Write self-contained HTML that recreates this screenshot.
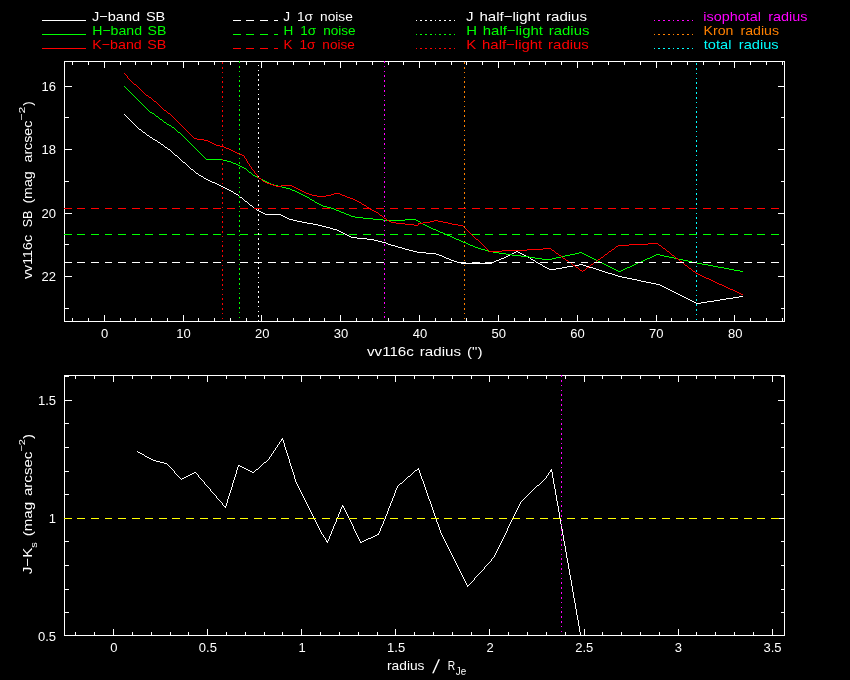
<!DOCTYPE html>
<html><head><meta charset="utf-8"><title>vv116c surface brightness profile</title><style>
html,body{margin:0;padding:0;background:#000;width:850px;height:680px;overflow:hidden}
svg{display:block;will-change:transform}
svg text{font-family:"Liberation Sans",sans-serif}
</style></head><body>
<svg width="850" height="680" viewBox="0 0 850 680" font-size="13">
<rect width="850" height="680" fill="#000"/>
<g shape-rendering="crispEdges">
<path fill="#ffffff" d="M64 61h721v1h-721zM64 62h1v1h-1zM72 62h1v1h-1zM88 62h1v1h-1zM104 62h1v1h-1zM120 62h1v1h-1zM135 62h1v1h-1zM151 62h1v1h-1zM167 62h1v1h-1zM183 62h1v1h-1zM198 62h1v1h-1zM214 62h1v1h-1zM230 62h1v1h-1zM246 62h1v1h-1zM261 62h1v1h-1zM277 62h1v1h-1zM293 62h1v1h-1zM309 62h1v1h-1zM324 62h1v1h-1zM340 62h1v1h-1zM356 62h1v1h-1zM372 62h1v1h-1zM388 62h1v1h-1zM403 62h1v1h-1zM419 62h1v1h-1zM435 62h1v1h-1zM451 62h1v1h-1zM466 62h1v1h-1zM482 62h1v1h-1zM498 62h1v1h-1zM514 62h1v1h-1zM529 62h1v1h-1zM545 62h1v1h-1zM561 62h1v1h-1zM577 62h1v1h-1zM592 62h1v1h-1zM608 62h1v1h-1zM624 62h1v1h-1zM640 62h1v1h-1zM656 62h1v1h-1zM671 62h1v1h-1zM687 62h1v1h-1zM703 62h1v1h-1zM719 62h1v1h-1zM734 62h1v1h-1zM750 62h1v1h-1zM766 62h1v1h-1zM782 62h1v1h-1zM784 62h1v1h-1zM64 63h1v1h-1zM72 63h1v1h-1zM88 63h1v1h-1zM104 63h1v1h-1zM120 63h1v1h-1zM135 63h1v1h-1zM151 63h1v1h-1zM167 63h1v1h-1zM183 63h1v1h-1zM198 63h1v1h-1zM214 63h1v1h-1zM230 63h1v1h-1zM246 63h1v1h-1zM261 63h1v1h-1zM277 63h1v1h-1zM293 63h1v1h-1zM309 63h1v1h-1zM324 63h1v1h-1zM340 63h1v1h-1zM356 63h1v1h-1zM372 63h1v1h-1zM388 63h1v1h-1zM403 63h1v1h-1zM419 63h1v1h-1zM435 63h1v1h-1zM451 63h1v1h-1zM466 63h1v1h-1zM482 63h1v1h-1zM498 63h1v1h-1zM514 63h1v1h-1zM529 63h1v1h-1zM545 63h1v1h-1zM561 63h1v1h-1zM577 63h1v1h-1zM592 63h1v1h-1zM608 63h1v1h-1zM624 63h1v1h-1zM640 63h1v1h-1zM656 63h1v1h-1zM671 63h1v1h-1zM687 63h1v1h-1zM703 63h1v1h-1zM719 63h1v1h-1zM734 63h1v1h-1zM750 63h1v1h-1zM766 63h1v1h-1zM782 63h1v1h-1zM784 63h1v1h-1zM64 64h1v1h-1zM72 64h1v1h-1zM88 64h1v1h-1zM104 64h1v1h-1zM120 64h1v1h-1zM135 64h1v1h-1zM151 64h1v1h-1zM167 64h1v1h-1zM183 64h1v1h-1zM198 64h1v1h-1zM214 64h1v1h-1zM230 64h1v1h-1zM246 64h1v1h-1zM261 64h1v1h-1zM277 64h1v1h-1zM293 64h1v1h-1zM309 64h1v1h-1zM324 64h1v1h-1zM340 64h1v1h-1zM356 64h1v1h-1zM372 64h1v1h-1zM388 64h1v1h-1zM403 64h1v1h-1zM419 64h1v1h-1zM435 64h1v1h-1zM451 64h1v1h-1zM466 64h1v1h-1zM482 64h1v1h-1zM498 64h1v1h-1zM514 64h1v1h-1zM529 64h1v1h-1zM545 64h1v1h-1zM561 64h1v1h-1zM577 64h1v1h-1zM592 64h1v1h-1zM608 64h1v1h-1zM624 64h1v1h-1zM640 64h1v1h-1zM656 64h1v1h-1zM671 64h1v1h-1zM687 64h1v1h-1zM703 64h1v1h-1zM719 64h1v1h-1zM734 64h1v1h-1zM750 64h1v1h-1zM766 64h1v1h-1zM782 64h1v1h-1zM784 64h1v1h-1zM64 65h1v1h-1zM104 65h1v1h-1zM183 65h1v1h-1zM261 65h1v1h-1zM340 65h1v1h-1zM419 65h1v1h-1zM498 65h1v1h-1zM577 65h1v1h-1zM656 65h1v1h-1zM734 65h1v1h-1zM784 65h1v1h-1zM64 66h1v1h-1zM104 66h1v1h-1zM183 66h1v1h-1zM261 66h1v1h-1zM340 66h1v1h-1zM419 66h1v1h-1zM498 66h1v1h-1zM577 66h1v1h-1zM656 66h1v1h-1zM734 66h1v1h-1zM784 66h1v1h-1zM64 67h1v1h-1zM104 67h1v1h-1zM183 67h1v1h-1zM261 67h1v1h-1zM340 67h1v1h-1zM419 67h1v1h-1zM498 67h1v1h-1zM577 67h1v1h-1zM656 67h1v1h-1zM734 67h1v1h-1zM784 67h1v1h-1zM64 68h1v1h-1zM784 68h1v1h-1zM64 69h1v1h-1zM784 69h1v1h-1zM64 70h1v1h-1zM784 70h1v1h-1zM64 71h1v1h-1zM784 71h1v1h-1zM64 72h1v1h-1zM784 72h1v1h-1zM64 73h1v1h-1zM784 73h1v1h-1zM64 74h1v1h-1zM784 74h1v1h-1zM64 75h1v1h-1zM784 75h1v1h-1zM64 76h1v1h-1zM784 76h1v1h-1zM64 77h1v1h-1zM784 77h1v1h-1zM64 78h1v1h-1zM784 78h1v1h-1zM64 79h1v1h-1zM784 79h1v1h-1zM64 80h1v1h-1zM784 80h1v1h-1zM64 81h1v1h-1zM784 81h1v1h-1zM64 82h1v1h-1zM784 82h1v1h-1zM64 83h1v1h-1zM784 83h1v1h-1zM64 84h1v1h-1zM784 84h1v1h-1zM64 85h1v1h-1zM784 85h1v1h-1zM64 86h8v1h-8zM778 86h7v1h-7zM64 87h1v1h-1zM784 87h1v1h-1zM64 88h1v1h-1zM784 88h1v1h-1zM64 89h1v1h-1zM784 89h1v1h-1zM64 90h1v1h-1zM784 90h1v1h-1zM64 91h1v1h-1zM784 91h1v1h-1zM64 92h1v1h-1zM784 92h1v1h-1zM64 93h1v1h-1zM784 93h1v1h-1zM64 94h1v1h-1zM784 94h1v1h-1zM64 95h1v1h-1zM784 95h1v1h-1zM64 96h1v1h-1zM784 96h1v1h-1zM64 97h1v1h-1zM784 97h1v1h-1zM64 98h1v1h-1zM784 98h1v1h-1zM64 99h1v1h-1zM784 99h1v1h-1zM64 100h1v1h-1zM784 100h1v1h-1zM64 101h1v1h-1zM784 101h1v1h-1zM64 102h1v1h-1zM784 102h1v1h-1zM64 103h1v1h-1zM784 103h1v1h-1zM64 104h1v1h-1zM784 104h1v1h-1zM64 105h1v1h-1zM784 105h1v1h-1zM64 106h1v1h-1zM784 106h1v1h-1zM64 107h1v1h-1zM784 107h1v1h-1zM64 108h1v1h-1zM784 108h1v1h-1zM64 109h1v1h-1zM784 109h1v1h-1zM64 110h1v1h-1zM784 110h1v1h-1zM64 111h1v1h-1zM784 111h1v1h-1zM64 112h1v1h-1zM784 112h1v1h-1zM64 113h1v1h-1zM784 113h1v1h-1zM64 114h1v1h-1zM124 114h1v1h-1zM784 114h1v1h-1zM64 115h1v1h-1zM125 115h1v1h-1zM784 115h1v1h-1zM64 116h1v1h-1zM126 116h1v1h-1zM784 116h1v1h-1zM64 117h5v1h-5zM127 117h1v1h-1zM781 117h4v1h-4zM64 118h1v1h-1zM128 118h1v1h-1zM784 118h1v1h-1zM64 119h1v1h-1zM129 119h1v1h-1zM784 119h1v1h-1zM64 120h1v1h-1zM130 120h1v1h-1zM784 120h1v1h-1zM64 121h1v1h-1zM131 121h1v1h-1zM784 121h1v1h-1zM64 122h1v1h-1zM132 122h1v1h-1zM784 122h1v1h-1zM64 123h1v1h-1zM133 123h1v1h-1zM784 123h1v1h-1zM64 124h1v1h-1zM134 124h1v1h-1zM784 124h1v1h-1zM64 125h1v1h-1zM135 125h1v1h-1zM784 125h1v1h-1zM64 126h1v1h-1zM136 126h1v1h-1zM784 126h1v1h-1zM64 127h1v1h-1zM137 127h1v1h-1zM784 127h1v1h-1zM64 128h1v1h-1zM138 128h1v1h-1zM784 128h1v1h-1zM64 129h1v1h-1zM139 129h2v1h-2zM784 129h1v1h-1zM64 130h1v1h-1zM141 130h1v1h-1zM784 130h1v1h-1zM64 131h1v1h-1zM142 131h1v1h-1zM784 131h1v1h-1zM64 132h1v1h-1zM143 132h2v1h-2zM784 132h1v1h-1zM64 133h1v1h-1zM145 133h1v1h-1zM784 133h1v1h-1zM64 134h1v1h-1zM146 134h1v1h-1zM784 134h1v1h-1zM64 135h1v1h-1zM147 135h2v1h-2zM784 135h1v1h-1zM64 136h1v1h-1zM149 136h1v1h-1zM784 136h1v1h-1zM64 137h1v1h-1zM150 137h2v1h-2zM784 137h1v1h-1zM64 138h1v1h-1zM152 138h1v1h-1zM784 138h1v1h-1zM64 139h1v1h-1zM153 139h2v1h-2zM784 139h1v1h-1zM64 140h1v1h-1zM155 140h2v1h-2zM784 140h1v1h-1zM64 141h1v1h-1zM157 141h1v1h-1zM784 141h1v1h-1zM64 142h1v1h-1zM158 142h2v1h-2zM784 142h1v1h-1zM64 143h1v1h-1zM160 143h1v1h-1zM784 143h1v1h-1zM64 144h1v1h-1zM161 144h2v1h-2zM784 144h1v1h-1zM64 145h1v1h-1zM163 145h1v1h-1zM784 145h1v1h-1zM64 146h1v1h-1zM164 146h1v1h-1zM784 146h1v1h-1zM64 147h1v1h-1zM165 147h2v1h-2zM784 147h1v1h-1zM64 148h1v1h-1zM167 148h1v1h-1zM784 148h1v1h-1zM64 149h8v1h-8zM168 149h2v1h-2zM778 149h7v1h-7zM64 150h1v1h-1zM170 150h1v1h-1zM784 150h1v1h-1zM64 151h1v1h-1zM171 151h1v1h-1zM784 151h1v1h-1zM64 152h1v1h-1zM172 152h1v1h-1zM784 152h1v1h-1zM64 153h1v1h-1zM173 153h1v1h-1zM784 153h1v1h-1zM64 154h1v1h-1zM174 154h1v1h-1zM784 154h1v1h-1zM64 155h1v1h-1zM175 155h2v1h-2zM784 155h1v1h-1zM64 156h1v1h-1zM177 156h1v1h-1zM784 156h1v1h-1zM64 157h1v1h-1zM178 157h1v1h-1zM784 157h1v1h-1zM64 158h1v1h-1zM179 158h1v1h-1zM784 158h1v1h-1zM64 159h1v1h-1zM180 159h1v1h-1zM784 159h1v1h-1zM64 160h1v1h-1zM181 160h1v1h-1zM784 160h1v1h-1zM64 161h1v1h-1zM182 161h1v1h-1zM784 161h1v1h-1zM64 162h1v1h-1zM183 162h2v1h-2zM784 162h1v1h-1zM64 163h1v1h-1zM185 163h1v1h-1zM784 163h1v1h-1zM64 164h1v1h-1zM186 164h1v1h-1zM784 164h1v1h-1zM64 165h1v1h-1zM187 165h1v1h-1zM784 165h1v1h-1zM64 166h1v1h-1zM188 166h1v1h-1zM784 166h1v1h-1zM64 167h1v1h-1zM189 167h1v1h-1zM784 167h1v1h-1zM64 168h1v1h-1zM190 168h1v1h-1zM784 168h1v1h-1zM64 169h1v1h-1zM191 169h2v1h-2zM784 169h1v1h-1zM64 170h1v1h-1zM193 170h1v1h-1zM784 170h1v1h-1zM64 171h1v1h-1zM194 171h1v1h-1zM784 171h1v1h-1zM64 172h1v1h-1zM195 172h1v1h-1zM784 172h1v1h-1zM64 173h1v1h-1zM196 173h2v1h-2zM784 173h1v1h-1zM64 174h1v1h-1zM198 174h1v1h-1zM784 174h1v1h-1zM64 175h1v1h-1zM199 175h2v1h-2zM784 175h1v1h-1zM64 176h1v1h-1zM201 176h2v1h-2zM784 176h1v1h-1zM64 177h1v1h-1zM203 177h1v1h-1zM784 177h1v1h-1zM64 178h1v1h-1zM204 178h2v1h-2zM784 178h1v1h-1zM64 179h1v1h-1zM206 179h2v1h-2zM784 179h1v1h-1zM64 180h1v1h-1zM208 180h2v1h-2zM784 180h1v1h-1zM64 181h5v1h-5zM210 181h2v1h-2zM781 181h4v1h-4zM64 182h1v1h-1zM212 182h3v1h-3zM784 182h1v1h-1zM64 183h1v1h-1zM215 183h2v1h-2zM784 183h1v1h-1zM64 184h1v1h-1zM217 184h2v1h-2zM784 184h1v1h-1zM64 185h1v1h-1zM219 185h2v1h-2zM784 185h1v1h-1zM64 186h1v1h-1zM221 186h2v1h-2zM784 186h1v1h-1zM64 187h1v1h-1zM223 187h2v1h-2zM784 187h1v1h-1zM64 188h1v1h-1zM225 188h2v1h-2zM784 188h1v1h-1zM64 189h1v1h-1zM227 189h2v1h-2zM784 189h1v1h-1zM64 190h1v1h-1zM229 190h2v1h-2zM784 190h1v1h-1zM64 191h1v1h-1zM231 191h2v1h-2zM784 191h1v1h-1zM64 192h1v1h-1zM233 192h1v1h-1zM784 192h1v1h-1zM64 193h1v1h-1zM234 193h2v1h-2zM784 193h1v1h-1zM64 194h1v1h-1zM236 194h2v1h-2zM784 194h1v1h-1zM64 195h1v1h-1zM238 195h1v1h-1zM784 195h1v1h-1zM64 196h1v1h-1zM239 196h1v1h-1zM784 196h1v1h-1zM64 197h1v1h-1zM240 197h2v1h-2zM784 197h1v1h-1zM64 198h1v1h-1zM242 198h1v1h-1zM784 198h1v1h-1zM64 199h1v1h-1zM243 199h1v1h-1zM784 199h1v1h-1zM64 200h1v1h-1zM244 200h1v1h-1zM784 200h1v1h-1zM64 201h1v1h-1zM245 201h2v1h-2zM784 201h1v1h-1zM64 202h1v1h-1zM247 202h1v1h-1zM784 202h1v1h-1zM64 203h1v1h-1zM248 203h1v1h-1zM784 203h1v1h-1zM64 204h1v1h-1zM249 204h1v1h-1zM784 204h1v1h-1zM64 205h1v1h-1zM250 205h2v1h-2zM784 205h1v1h-1zM64 206h1v1h-1zM252 206h1v1h-1zM784 206h1v1h-1zM64 207h1v1h-1zM253 207h1v1h-1zM784 207h1v1h-1zM64 208h1v1h-1zM254 208h2v1h-2zM784 208h1v1h-1zM64 209h1v1h-1zM256 209h1v1h-1zM784 209h1v1h-1zM64 210h1v1h-1zM257 210h2v1h-2zM784 210h1v1h-1zM64 211h1v1h-1zM259 211h2v1h-2zM784 211h1v1h-1zM64 212h1v1h-1zM261 212h2v1h-2zM784 212h1v1h-1zM64 213h8v1h-8zM263 213h2v1h-2zM778 213h7v1h-7zM64 214h1v1h-1zM265 214h16v1h-16zM784 214h1v1h-1zM64 215h1v1h-1zM281 215h2v1h-2zM784 215h1v1h-1zM64 216h1v1h-1zM283 216h2v1h-2zM784 216h1v1h-1zM64 217h1v1h-1zM285 217h2v1h-2zM784 217h1v1h-1zM64 218h1v1h-1zM287 218h2v1h-2zM784 218h1v1h-1zM64 219h1v1h-1zM289 219h4v1h-4zM784 219h1v1h-1zM64 220h1v1h-1zM293 220h4v1h-4zM784 220h1v1h-1zM64 221h1v1h-1zM297 221h5v1h-5zM784 221h1v1h-1zM64 222h1v1h-1zM302 222h5v1h-5zM784 222h1v1h-1zM64 223h1v1h-1zM307 223h6v1h-6zM784 223h1v1h-1zM64 224h1v1h-1zM313 224h5v1h-5zM784 224h1v1h-1zM64 225h1v1h-1zM318 225h4v1h-4zM784 225h1v1h-1zM64 226h1v1h-1zM322 226h4v1h-4zM784 226h1v1h-1zM64 227h1v1h-1zM326 227h4v1h-4zM784 227h1v1h-1zM64 228h1v1h-1zM330 228h3v1h-3zM784 228h1v1h-1zM64 229h1v1h-1zM333 229h4v1h-4zM784 229h1v1h-1zM64 230h1v1h-1zM337 230h2v1h-2zM784 230h1v1h-1zM64 231h1v1h-1zM339 231h2v1h-2zM784 231h1v1h-1zM64 232h1v1h-1zM341 232h2v1h-2zM784 232h1v1h-1zM64 233h1v1h-1zM343 233h2v1h-2zM784 233h1v1h-1zM64 234h1v1h-1zM345 234h2v1h-2zM784 234h1v1h-1zM64 235h1v1h-1zM347 235h2v1h-2zM784 235h1v1h-1zM64 236h1v1h-1zM349 236h2v1h-2zM784 236h1v1h-1zM64 237h1v1h-1zM351 237h6v1h-6zM784 237h1v1h-1zM64 238h1v1h-1zM357 238h10v1h-10zM784 238h1v1h-1zM64 239h1v1h-1zM367 239h7v1h-7zM784 239h1v1h-1zM64 240h1v1h-1zM374 240h4v1h-4zM784 240h1v1h-1zM64 241h1v1h-1zM378 241h4v1h-4zM784 241h1v1h-1zM64 242h1v1h-1zM382 242h4v1h-4zM784 242h1v1h-1zM64 243h1v1h-1zM386 243h2v1h-2zM784 243h1v1h-1zM64 244h5v1h-5zM388 244h3v1h-3zM781 244h4v1h-4zM64 245h1v1h-1zM391 245h4v1h-4zM784 245h1v1h-1zM64 246h1v1h-1zM395 246h3v1h-3zM784 246h1v1h-1zM64 247h1v1h-1zM398 247h4v1h-4zM784 247h1v1h-1zM64 248h1v1h-1zM402 248h3v1h-3zM784 248h1v1h-1zM64 249h1v1h-1zM405 249h4v1h-4zM784 249h1v1h-1zM64 250h1v1h-1zM409 250h4v1h-4zM784 250h1v1h-1zM64 251h1v1h-1zM413 251h4v1h-4zM516 251h2v1h-2zM784 251h1v1h-1zM64 252h1v1h-1zM417 252h9v1h-9zM514 252h2v1h-2zM518 252h2v1h-2zM784 252h1v1h-1zM64 253h1v1h-1zM426 253h10v1h-10zM512 253h2v1h-2zM520 253h2v1h-2zM784 253h1v1h-1zM64 254h1v1h-1zM436 254h3v1h-3zM510 254h2v1h-2zM522 254h2v1h-2zM784 254h1v1h-1zM64 255h1v1h-1zM439 255h3v1h-3zM508 255h2v1h-2zM524 255h2v1h-2zM784 255h1v1h-1zM64 256h1v1h-1zM442 256h2v1h-2zM506 256h2v1h-2zM526 256h2v1h-2zM784 256h1v1h-1zM64 257h1v1h-1zM444 257h2v1h-2zM504 257h2v1h-2zM528 257h2v1h-2zM784 257h1v1h-1zM64 258h1v1h-1zM446 258h3v1h-3zM501 258h3v1h-3zM530 258h1v1h-1zM784 258h1v1h-1zM64 259h1v1h-1zM449 259h2v1h-2zM499 259h2v1h-2zM531 259h2v1h-2zM784 259h1v1h-1zM64 260h1v1h-1zM451 260h3v1h-3zM496 260h3v1h-3zM533 260h2v1h-2zM784 260h1v1h-1zM64 261h1v1h-1zM454 261h3v1h-3zM494 261h2v1h-2zM535 261h1v1h-1zM784 261h1v1h-1zM64 262h1v1h-1zM457 262h4v1h-4zM492 262h2v1h-2zM536 262h2v1h-2zM784 262h1v1h-1zM64 263h1v1h-1zM461 263h31v1h-31zM538 263h2v1h-2zM784 263h1v1h-1zM64 264h1v1h-1zM540 264h2v1h-2zM579 264h4v1h-4zM784 264h1v1h-1zM64 265h1v1h-1zM542 265h1v1h-1zM573 265h6v1h-6zM583 265h3v1h-3zM784 265h1v1h-1zM64 266h1v1h-1zM543 266h2v1h-2zM567 266h6v1h-6zM586 266h3v1h-3zM784 266h1v1h-1zM64 267h1v1h-1zM545 267h2v1h-2zM562 267h5v1h-5zM589 267h4v1h-4zM784 267h1v1h-1zM64 268h1v1h-1zM547 268h2v1h-2zM556 268h6v1h-6zM593 268h3v1h-3zM784 268h1v1h-1zM64 269h1v1h-1zM549 269h7v1h-7zM596 269h3v1h-3zM784 269h1v1h-1zM64 270h1v1h-1zM599 270h3v1h-3zM784 270h1v1h-1zM64 271h1v1h-1zM602 271h3v1h-3zM784 271h1v1h-1zM64 272h1v1h-1zM605 272h3v1h-3zM784 272h1v1h-1zM64 273h1v1h-1zM608 273h4v1h-4zM784 273h1v1h-1zM64 274h1v1h-1zM612 274h3v1h-3zM784 274h1v1h-1zM64 275h1v1h-1zM615 275h3v1h-3zM784 275h1v1h-1zM64 276h8v1h-8zM618 276h4v1h-4zM778 276h7v1h-7zM64 277h1v1h-1zM622 277h5v1h-5zM784 277h1v1h-1zM64 278h1v1h-1zM627 278h5v1h-5zM784 278h1v1h-1zM64 279h1v1h-1zM632 279h5v1h-5zM784 279h1v1h-1zM64 280h1v1h-1zM637 280h4v1h-4zM784 280h1v1h-1zM64 281h1v1h-1zM641 281h5v1h-5zM784 281h1v1h-1zM64 282h1v1h-1zM646 282h5v1h-5zM784 282h1v1h-1zM64 283h1v1h-1zM651 283h5v1h-5zM784 283h1v1h-1zM64 284h1v1h-1zM656 284h4v1h-4zM784 284h1v1h-1zM64 285h1v1h-1zM660 285h2v1h-2zM784 285h1v1h-1zM64 286h1v1h-1zM662 286h2v1h-2zM784 286h1v1h-1zM64 287h1v1h-1zM664 287h2v1h-2zM784 287h1v1h-1zM64 288h1v1h-1zM666 288h2v1h-2zM784 288h1v1h-1zM64 289h1v1h-1zM668 289h2v1h-2zM784 289h1v1h-1zM64 290h1v1h-1zM670 290h2v1h-2zM784 290h1v1h-1zM64 291h1v1h-1zM672 291h2v1h-2zM784 291h1v1h-1zM64 292h1v1h-1zM674 292h2v1h-2zM784 292h1v1h-1zM64 293h1v1h-1zM676 293h2v1h-2zM784 293h1v1h-1zM64 294h1v1h-1zM678 294h2v1h-2zM784 294h1v1h-1zM64 295h1v1h-1zM680 295h2v1h-2zM784 295h1v1h-1zM64 296h1v1h-1zM682 296h2v1h-2zM739 296h4v1h-4zM784 296h1v1h-1zM64 297h1v1h-1zM684 297h2v1h-2zM733 297h6v1h-6zM784 297h1v1h-1zM64 298h1v1h-1zM686 298h2v1h-2zM726 298h7v1h-7zM784 298h1v1h-1zM64 299h1v1h-1zM688 299h2v1h-2zM720 299h6v1h-6zM784 299h1v1h-1zM64 300h1v1h-1zM690 300h2v1h-2zM714 300h6v1h-6zM784 300h1v1h-1zM64 301h1v1h-1zM692 301h2v1h-2zM707 301h7v1h-7zM784 301h1v1h-1zM64 302h1v1h-1zM694 302h2v1h-2zM701 302h6v1h-6zM784 302h1v1h-1zM64 303h1v1h-1zM696 303h5v1h-5zM784 303h1v1h-1zM64 304h1v1h-1zM784 304h1v1h-1zM64 305h1v1h-1zM784 305h1v1h-1zM64 306h1v1h-1zM784 306h1v1h-1zM64 307h1v1h-1zM784 307h1v1h-1zM64 308h5v1h-5zM781 308h4v1h-4zM64 309h1v1h-1zM784 309h1v1h-1zM64 310h1v1h-1zM784 310h1v1h-1zM64 311h1v1h-1zM784 311h1v1h-1zM64 312h1v1h-1zM784 312h1v1h-1zM64 313h1v1h-1zM784 313h1v1h-1zM64 314h1v1h-1zM784 314h1v1h-1zM64 315h1v1h-1zM104 315h1v1h-1zM183 315h1v1h-1zM261 315h1v1h-1zM340 315h1v1h-1zM419 315h1v1h-1zM498 315h1v1h-1zM577 315h1v1h-1zM656 315h1v1h-1zM734 315h1v1h-1zM784 315h1v1h-1zM64 316h1v1h-1zM104 316h1v1h-1zM183 316h1v1h-1zM261 316h1v1h-1zM340 316h1v1h-1zM419 316h1v1h-1zM498 316h1v1h-1zM577 316h1v1h-1zM656 316h1v1h-1zM734 316h1v1h-1zM784 316h1v1h-1zM64 317h1v1h-1zM104 317h1v1h-1zM183 317h1v1h-1zM261 317h1v1h-1zM340 317h1v1h-1zM419 317h1v1h-1zM498 317h1v1h-1zM577 317h1v1h-1zM656 317h1v1h-1zM734 317h1v1h-1zM784 317h1v1h-1zM64 318h1v1h-1zM72 318h1v1h-1zM88 318h1v1h-1zM104 318h1v1h-1zM120 318h1v1h-1zM135 318h1v1h-1zM151 318h1v1h-1zM167 318h1v1h-1zM183 318h1v1h-1zM198 318h1v1h-1zM214 318h1v1h-1zM230 318h1v1h-1zM246 318h1v1h-1zM261 318h1v1h-1zM277 318h1v1h-1zM293 318h1v1h-1zM309 318h1v1h-1zM324 318h1v1h-1zM340 318h1v1h-1zM356 318h1v1h-1zM372 318h1v1h-1zM388 318h1v1h-1zM403 318h1v1h-1zM419 318h1v1h-1zM435 318h1v1h-1zM451 318h1v1h-1zM466 318h1v1h-1zM482 318h1v1h-1zM498 318h1v1h-1zM514 318h1v1h-1zM529 318h1v1h-1zM545 318h1v1h-1zM561 318h1v1h-1zM577 318h1v1h-1zM592 318h1v1h-1zM608 318h1v1h-1zM624 318h1v1h-1zM640 318h1v1h-1zM656 318h1v1h-1zM671 318h1v1h-1zM687 318h1v1h-1zM703 318h1v1h-1zM719 318h1v1h-1zM734 318h1v1h-1zM750 318h1v1h-1zM766 318h1v1h-1zM782 318h1v1h-1zM784 318h1v1h-1zM64 319h1v1h-1zM72 319h1v1h-1zM88 319h1v1h-1zM104 319h1v1h-1zM120 319h1v1h-1zM135 319h1v1h-1zM151 319h1v1h-1zM167 319h1v1h-1zM183 319h1v1h-1zM198 319h1v1h-1zM214 319h1v1h-1zM230 319h1v1h-1zM246 319h1v1h-1zM261 319h1v1h-1zM277 319h1v1h-1zM293 319h1v1h-1zM309 319h1v1h-1zM324 319h1v1h-1zM340 319h1v1h-1zM356 319h1v1h-1zM372 319h1v1h-1zM388 319h1v1h-1zM403 319h1v1h-1zM419 319h1v1h-1zM435 319h1v1h-1zM451 319h1v1h-1zM466 319h1v1h-1zM482 319h1v1h-1zM498 319h1v1h-1zM514 319h1v1h-1zM529 319h1v1h-1zM545 319h1v1h-1zM561 319h1v1h-1zM577 319h1v1h-1zM592 319h1v1h-1zM608 319h1v1h-1zM624 319h1v1h-1zM640 319h1v1h-1zM656 319h1v1h-1zM671 319h1v1h-1zM687 319h1v1h-1zM703 319h1v1h-1zM719 319h1v1h-1zM734 319h1v1h-1zM750 319h1v1h-1zM766 319h1v1h-1zM782 319h1v1h-1zM784 319h1v1h-1zM64 320h1v1h-1zM72 320h1v1h-1zM88 320h1v1h-1zM104 320h1v1h-1zM120 320h1v1h-1zM135 320h1v1h-1zM151 320h1v1h-1zM167 320h1v1h-1zM183 320h1v1h-1zM198 320h1v1h-1zM214 320h1v1h-1zM230 320h1v1h-1zM246 320h1v1h-1zM261 320h1v1h-1zM277 320h1v1h-1zM293 320h1v1h-1zM309 320h1v1h-1zM324 320h1v1h-1zM340 320h1v1h-1zM356 320h1v1h-1zM372 320h1v1h-1zM388 320h1v1h-1zM403 320h1v1h-1zM419 320h1v1h-1zM435 320h1v1h-1zM451 320h1v1h-1zM466 320h1v1h-1zM482 320h1v1h-1zM498 320h1v1h-1zM514 320h1v1h-1zM529 320h1v1h-1zM545 320h1v1h-1zM561 320h1v1h-1zM577 320h1v1h-1zM592 320h1v1h-1zM608 320h1v1h-1zM624 320h1v1h-1zM640 320h1v1h-1zM656 320h1v1h-1zM671 320h1v1h-1zM687 320h1v1h-1zM703 320h1v1h-1zM719 320h1v1h-1zM734 320h1v1h-1zM750 320h1v1h-1zM766 320h1v1h-1zM782 320h1v1h-1zM784 320h1v1h-1zM64 321h721v1h-721zM64 375h721v1h-721zM64 376h5v1h-5zM75 376h1v1h-1zM94 376h1v1h-1zM113 376h1v1h-1zM132 376h1v1h-1zM151 376h1v1h-1zM170 376h1v1h-1zM188 376h1v1h-1zM207 376h1v1h-1zM226 376h1v1h-1zM245 376h1v1h-1zM264 376h1v1h-1zM282 376h1v1h-1zM301 376h1v1h-1zM320 376h1v1h-1zM339 376h1v1h-1zM358 376h1v1h-1zM377 376h1v1h-1zM395 376h1v1h-1zM414 376h1v1h-1zM433 376h1v1h-1zM452 376h1v1h-1zM471 376h1v1h-1zM489 376h1v1h-1zM508 376h1v1h-1zM527 376h1v1h-1zM546 376h1v1h-1zM565 376h1v1h-1zM584 376h1v1h-1zM602 376h1v1h-1zM621 376h1v1h-1zM640 376h1v1h-1zM659 376h1v1h-1zM678 376h1v1h-1zM696 376h1v1h-1zM715 376h1v1h-1zM734 376h1v1h-1zM753 376h1v1h-1zM772 376h1v1h-1zM781 376h4v1h-4zM64 377h1v1h-1zM75 377h1v1h-1zM94 377h1v1h-1zM113 377h1v1h-1zM132 377h1v1h-1zM151 377h1v1h-1zM170 377h1v1h-1zM188 377h1v1h-1zM207 377h1v1h-1zM226 377h1v1h-1zM245 377h1v1h-1zM264 377h1v1h-1zM282 377h1v1h-1zM301 377h1v1h-1zM320 377h1v1h-1zM339 377h1v1h-1zM358 377h1v1h-1zM377 377h1v1h-1zM395 377h1v1h-1zM414 377h1v1h-1zM433 377h1v1h-1zM452 377h1v1h-1zM471 377h1v1h-1zM489 377h1v1h-1zM508 377h1v1h-1zM527 377h1v1h-1zM546 377h1v1h-1zM565 377h1v1h-1zM584 377h1v1h-1zM602 377h1v1h-1zM621 377h1v1h-1zM640 377h1v1h-1zM659 377h1v1h-1zM678 377h1v1h-1zM696 377h1v1h-1zM715 377h1v1h-1zM734 377h1v1h-1zM753 377h1v1h-1zM772 377h1v1h-1zM784 377h1v1h-1zM64 378h1v1h-1zM75 378h1v1h-1zM94 378h1v1h-1zM113 378h1v1h-1zM132 378h1v1h-1zM151 378h1v1h-1zM170 378h1v1h-1zM188 378h1v1h-1zM207 378h1v1h-1zM226 378h1v1h-1zM245 378h1v1h-1zM264 378h1v1h-1zM282 378h1v1h-1zM301 378h1v1h-1zM320 378h1v1h-1zM339 378h1v1h-1zM358 378h1v1h-1zM377 378h1v1h-1zM395 378h1v1h-1zM414 378h1v1h-1zM433 378h1v1h-1zM452 378h1v1h-1zM471 378h1v1h-1zM489 378h1v1h-1zM508 378h1v1h-1zM527 378h1v1h-1zM546 378h1v1h-1zM565 378h1v1h-1zM584 378h1v1h-1zM602 378h1v1h-1zM621 378h1v1h-1zM640 378h1v1h-1zM659 378h1v1h-1zM678 378h1v1h-1zM696 378h1v1h-1zM715 378h1v1h-1zM734 378h1v1h-1zM753 378h1v1h-1zM772 378h1v1h-1zM784 378h1v1h-1zM64 379h1v1h-1zM113 379h1v1h-1zM207 379h1v1h-1zM301 379h1v1h-1zM395 379h1v1h-1zM489 379h1v1h-1zM584 379h1v1h-1zM678 379h1v1h-1zM772 379h1v1h-1zM784 379h1v1h-1zM64 380h1v1h-1zM113 380h1v1h-1zM207 380h1v1h-1zM301 380h1v1h-1zM395 380h1v1h-1zM489 380h1v1h-1zM584 380h1v1h-1zM678 380h1v1h-1zM772 380h1v1h-1zM784 380h1v1h-1zM64 381h1v1h-1zM113 381h1v1h-1zM207 381h1v1h-1zM301 381h1v1h-1zM395 381h1v1h-1zM489 381h1v1h-1zM584 381h1v1h-1zM678 381h1v1h-1zM772 381h1v1h-1zM784 381h1v1h-1zM64 382h1v1h-1zM784 382h1v1h-1zM64 383h1v1h-1zM784 383h1v1h-1zM64 384h1v1h-1zM784 384h1v1h-1zM64 385h1v1h-1zM784 385h1v1h-1zM64 386h1v1h-1zM784 386h1v1h-1zM64 387h1v1h-1zM784 387h1v1h-1zM64 388h1v1h-1zM784 388h1v1h-1zM64 389h1v1h-1zM784 389h1v1h-1zM64 390h1v1h-1zM784 390h1v1h-1zM64 391h1v1h-1zM784 391h1v1h-1zM64 392h1v1h-1zM784 392h1v1h-1zM64 393h1v1h-1zM784 393h1v1h-1zM64 394h1v1h-1zM784 394h1v1h-1zM64 395h1v1h-1zM784 395h1v1h-1zM64 396h1v1h-1zM784 396h1v1h-1zM64 397h1v1h-1zM784 397h1v1h-1zM64 398h1v1h-1zM784 398h1v1h-1zM64 399h1v1h-1zM784 399h1v1h-1zM64 400h8v1h-8zM778 400h7v1h-7zM64 401h1v1h-1zM784 401h1v1h-1zM64 402h1v1h-1zM784 402h1v1h-1zM64 403h1v1h-1zM784 403h1v1h-1zM64 404h1v1h-1zM784 404h1v1h-1zM64 405h1v1h-1zM784 405h1v1h-1zM64 406h1v1h-1zM784 406h1v1h-1zM64 407h1v1h-1zM784 407h1v1h-1zM64 408h1v1h-1zM784 408h1v1h-1zM64 409h1v1h-1zM784 409h1v1h-1zM64 410h1v1h-1zM784 410h1v1h-1zM64 411h1v1h-1zM784 411h1v1h-1zM64 412h1v1h-1zM784 412h1v1h-1zM64 413h1v1h-1zM784 413h1v1h-1zM64 414h1v1h-1zM784 414h1v1h-1zM64 415h1v1h-1zM784 415h1v1h-1zM64 416h1v1h-1zM784 416h1v1h-1zM64 417h1v1h-1zM784 417h1v1h-1zM64 418h1v1h-1zM784 418h1v1h-1zM64 419h1v1h-1zM784 419h1v1h-1zM64 420h1v1h-1zM784 420h1v1h-1zM64 421h1v1h-1zM784 421h1v1h-1zM64 422h1v1h-1zM784 422h1v1h-1zM64 423h5v1h-5zM781 423h4v1h-4zM64 424h1v1h-1zM784 424h1v1h-1zM64 425h1v1h-1zM784 425h1v1h-1zM64 426h1v1h-1zM784 426h1v1h-1zM64 427h1v1h-1zM784 427h1v1h-1zM64 428h1v1h-1zM784 428h1v1h-1zM64 429h1v1h-1zM784 429h1v1h-1zM64 430h1v1h-1zM784 430h1v1h-1zM64 431h1v1h-1zM784 431h1v1h-1zM64 432h1v1h-1zM784 432h1v1h-1zM64 433h1v1h-1zM784 433h1v1h-1zM64 434h1v1h-1zM784 434h1v1h-1zM64 435h1v1h-1zM784 435h1v1h-1zM64 436h1v1h-1zM784 436h1v1h-1zM64 437h1v1h-1zM784 437h1v1h-1zM64 438h1v1h-1zM784 438h1v1h-1zM64 439h1v1h-1zM784 439h1v1h-1zM64 440h1v1h-1zM784 440h1v1h-1zM64 441h1v1h-1zM784 441h1v1h-1zM64 442h1v1h-1zM784 442h1v1h-1zM64 443h1v1h-1zM784 443h1v1h-1zM64 444h1v1h-1zM784 444h1v1h-1zM64 445h1v1h-1zM784 445h1v1h-1zM64 446h1v1h-1zM784 446h1v1h-1zM64 447h5v1h-5zM781 447h4v1h-4zM64 448h1v1h-1zM784 448h1v1h-1zM64 449h1v1h-1zM784 449h1v1h-1zM64 450h1v1h-1zM784 450h1v1h-1zM64 451h1v1h-1zM784 451h1v1h-1zM64 452h1v1h-1zM784 452h1v1h-1zM64 453h1v1h-1zM784 453h1v1h-1zM64 454h1v1h-1zM784 454h1v1h-1zM64 455h1v1h-1zM784 455h1v1h-1zM64 456h1v1h-1zM784 456h1v1h-1zM64 457h1v1h-1zM784 457h1v1h-1zM64 458h1v1h-1zM784 458h1v1h-1zM64 459h1v1h-1zM784 459h1v1h-1zM64 460h1v1h-1zM784 460h1v1h-1zM64 461h1v1h-1zM784 461h1v1h-1zM64 462h1v1h-1zM784 462h1v1h-1zM64 463h1v1h-1zM784 463h1v1h-1zM64 464h1v1h-1zM784 464h1v1h-1zM64 465h1v1h-1zM784 465h1v1h-1zM64 466h1v1h-1zM784 466h1v1h-1zM64 467h1v1h-1zM784 467h1v1h-1zM64 468h1v1h-1zM784 468h1v1h-1zM64 469h1v1h-1zM784 469h1v1h-1zM64 470h1v1h-1zM784 470h1v1h-1zM64 471h5v1h-5zM781 471h4v1h-4zM64 472h1v1h-1zM784 472h1v1h-1zM64 473h1v1h-1zM784 473h1v1h-1zM64 474h1v1h-1zM784 474h1v1h-1zM64 475h1v1h-1zM784 475h1v1h-1zM64 476h1v1h-1zM784 476h1v1h-1zM64 477h1v1h-1zM784 477h1v1h-1zM64 478h1v1h-1zM784 478h1v1h-1zM64 479h1v1h-1zM784 479h1v1h-1zM64 480h1v1h-1zM784 480h1v1h-1zM64 481h1v1h-1zM784 481h1v1h-1zM64 482h1v1h-1zM784 482h1v1h-1zM64 483h1v1h-1zM784 483h1v1h-1zM64 484h1v1h-1zM784 484h1v1h-1zM64 485h1v1h-1zM784 485h1v1h-1zM64 486h1v1h-1zM784 486h1v1h-1zM64 487h1v1h-1zM784 487h1v1h-1zM64 488h1v1h-1zM784 488h1v1h-1zM64 489h1v1h-1zM784 489h1v1h-1zM64 490h1v1h-1zM784 490h1v1h-1zM64 491h1v1h-1zM784 491h1v1h-1zM64 492h1v1h-1zM784 492h1v1h-1zM64 493h1v1h-1zM784 493h1v1h-1zM64 494h5v1h-5zM781 494h4v1h-4zM64 495h1v1h-1zM784 495h1v1h-1zM64 496h1v1h-1zM784 496h1v1h-1zM64 497h1v1h-1zM784 497h1v1h-1zM64 498h1v1h-1zM784 498h1v1h-1zM64 499h1v1h-1zM784 499h1v1h-1zM64 500h1v1h-1zM784 500h1v1h-1zM64 501h1v1h-1zM784 501h1v1h-1zM64 502h1v1h-1zM784 502h1v1h-1zM64 503h1v1h-1zM784 503h1v1h-1zM64 504h1v1h-1zM784 504h1v1h-1zM64 505h1v1h-1zM784 505h1v1h-1zM64 506h1v1h-1zM784 506h1v1h-1zM64 507h1v1h-1zM784 507h1v1h-1zM64 508h1v1h-1zM784 508h1v1h-1zM64 509h1v1h-1zM784 509h1v1h-1zM64 510h1v1h-1zM784 510h1v1h-1zM64 511h1v1h-1zM784 511h1v1h-1zM64 512h1v1h-1zM784 512h1v1h-1zM64 513h1v1h-1zM784 513h1v1h-1zM64 514h1v1h-1zM784 514h1v1h-1zM64 515h1v1h-1zM784 515h1v1h-1zM64 516h1v1h-1zM784 516h1v1h-1zM64 517h1v1h-1zM784 517h1v1h-1zM64 518h8v1h-8zM778 518h7v1h-7zM64 519h1v1h-1zM784 519h1v1h-1zM64 520h1v1h-1zM784 520h1v1h-1zM64 521h1v1h-1zM784 521h1v1h-1zM64 522h1v1h-1zM784 522h1v1h-1zM64 523h1v1h-1zM784 523h1v1h-1zM64 524h1v1h-1zM784 524h1v1h-1zM64 525h1v1h-1zM784 525h1v1h-1zM64 526h1v1h-1zM784 526h1v1h-1zM64 527h1v1h-1zM784 527h1v1h-1zM64 528h1v1h-1zM784 528h1v1h-1zM64 529h1v1h-1zM784 529h1v1h-1zM64 530h1v1h-1zM784 530h1v1h-1zM64 531h1v1h-1zM784 531h1v1h-1zM64 532h1v1h-1zM784 532h1v1h-1zM64 533h1v1h-1zM784 533h1v1h-1zM64 534h1v1h-1zM784 534h1v1h-1zM64 535h1v1h-1zM784 535h1v1h-1zM64 536h1v1h-1zM784 536h1v1h-1zM64 537h1v1h-1zM784 537h1v1h-1zM64 538h1v1h-1zM784 538h1v1h-1zM64 539h1v1h-1zM784 539h1v1h-1zM64 540h1v1h-1zM784 540h1v1h-1zM64 541h5v1h-5zM781 541h4v1h-4zM64 542h1v1h-1zM784 542h1v1h-1zM64 543h1v1h-1zM784 543h1v1h-1zM64 544h1v1h-1zM784 544h1v1h-1zM64 545h1v1h-1zM784 545h1v1h-1zM64 546h1v1h-1zM784 546h1v1h-1zM64 547h1v1h-1zM784 547h1v1h-1zM64 548h1v1h-1zM784 548h1v1h-1zM64 549h1v1h-1zM784 549h1v1h-1zM64 550h1v1h-1zM784 550h1v1h-1zM64 551h1v1h-1zM784 551h1v1h-1zM64 552h1v1h-1zM784 552h1v1h-1zM64 553h1v1h-1zM784 553h1v1h-1zM64 554h1v1h-1zM784 554h1v1h-1zM64 555h1v1h-1zM784 555h1v1h-1zM64 556h1v1h-1zM784 556h1v1h-1zM64 557h1v1h-1zM784 557h1v1h-1zM64 558h1v1h-1zM784 558h1v1h-1zM64 559h1v1h-1zM784 559h1v1h-1zM64 560h1v1h-1zM784 560h1v1h-1zM64 561h1v1h-1zM784 561h1v1h-1zM64 562h1v1h-1zM784 562h1v1h-1zM64 563h1v1h-1zM784 563h1v1h-1zM64 564h1v1h-1zM784 564h1v1h-1zM64 565h5v1h-5zM781 565h4v1h-4zM64 566h1v1h-1zM784 566h1v1h-1zM64 567h1v1h-1zM784 567h1v1h-1zM64 568h1v1h-1zM784 568h1v1h-1zM64 569h1v1h-1zM784 569h1v1h-1zM64 570h1v1h-1zM784 570h1v1h-1zM64 571h1v1h-1zM784 571h1v1h-1zM64 572h1v1h-1zM784 572h1v1h-1zM64 573h1v1h-1zM784 573h1v1h-1zM64 574h1v1h-1zM784 574h1v1h-1zM64 575h1v1h-1zM784 575h1v1h-1zM64 576h1v1h-1zM784 576h1v1h-1zM64 577h1v1h-1zM784 577h1v1h-1zM64 578h1v1h-1zM784 578h1v1h-1zM64 579h1v1h-1zM784 579h1v1h-1zM64 580h1v1h-1zM784 580h1v1h-1zM64 581h1v1h-1zM784 581h1v1h-1zM64 582h1v1h-1zM784 582h1v1h-1zM64 583h1v1h-1zM784 583h1v1h-1zM64 584h1v1h-1zM784 584h1v1h-1zM64 585h1v1h-1zM784 585h1v1h-1zM64 586h1v1h-1zM784 586h1v1h-1zM64 587h1v1h-1zM784 587h1v1h-1zM64 588h1v1h-1zM784 588h1v1h-1zM64 589h5v1h-5zM781 589h4v1h-4zM64 590h1v1h-1zM784 590h1v1h-1zM64 591h1v1h-1zM784 591h1v1h-1zM64 592h1v1h-1zM784 592h1v1h-1zM64 593h1v1h-1zM784 593h1v1h-1zM64 594h1v1h-1zM784 594h1v1h-1zM64 595h1v1h-1zM784 595h1v1h-1zM64 596h1v1h-1zM784 596h1v1h-1zM64 597h1v1h-1zM784 597h1v1h-1zM64 598h1v1h-1zM784 598h1v1h-1zM64 599h1v1h-1zM784 599h1v1h-1zM64 600h1v1h-1zM784 600h1v1h-1zM64 601h1v1h-1zM784 601h1v1h-1zM64 602h1v1h-1zM784 602h1v1h-1zM64 603h1v1h-1zM784 603h1v1h-1zM64 604h1v1h-1zM784 604h1v1h-1zM64 605h1v1h-1zM784 605h1v1h-1zM64 606h1v1h-1zM784 606h1v1h-1zM64 607h1v1h-1zM784 607h1v1h-1zM64 608h1v1h-1zM784 608h1v1h-1zM64 609h1v1h-1zM784 609h1v1h-1zM64 610h1v1h-1zM784 610h1v1h-1zM64 611h1v1h-1zM784 611h1v1h-1zM64 612h5v1h-5zM781 612h4v1h-4zM64 613h1v1h-1zM784 613h1v1h-1zM64 614h1v1h-1zM784 614h1v1h-1zM64 615h1v1h-1zM784 615h1v1h-1zM64 616h1v1h-1zM784 616h1v1h-1zM64 617h1v1h-1zM784 617h1v1h-1zM64 618h1v1h-1zM784 618h1v1h-1zM64 619h1v1h-1zM784 619h1v1h-1zM64 620h1v1h-1zM784 620h1v1h-1zM64 621h1v1h-1zM784 621h1v1h-1zM64 622h1v1h-1zM784 622h1v1h-1zM64 623h1v1h-1zM784 623h1v1h-1zM64 624h1v1h-1zM784 624h1v1h-1zM64 625h1v1h-1zM784 625h1v1h-1zM64 626h1v1h-1zM784 626h1v1h-1zM64 627h1v1h-1zM784 627h1v1h-1zM64 628h1v1h-1zM784 628h1v1h-1zM64 629h1v1h-1zM113 629h1v1h-1zM207 629h1v1h-1zM301 629h1v1h-1zM395 629h1v1h-1zM489 629h1v1h-1zM584 629h1v1h-1zM678 629h1v1h-1zM772 629h1v1h-1zM784 629h1v1h-1zM64 630h1v1h-1zM113 630h1v1h-1zM207 630h1v1h-1zM301 630h1v1h-1zM395 630h1v1h-1zM489 630h1v1h-1zM584 630h1v1h-1zM678 630h1v1h-1zM772 630h1v1h-1zM784 630h1v1h-1zM64 631h1v1h-1zM113 631h1v1h-1zM207 631h1v1h-1zM301 631h1v1h-1zM395 631h1v1h-1zM489 631h1v1h-1zM584 631h1v1h-1zM678 631h1v1h-1zM772 631h1v1h-1zM784 631h1v1h-1zM64 632h1v1h-1zM75 632h1v1h-1zM94 632h1v1h-1zM113 632h1v1h-1zM132 632h1v1h-1zM151 632h1v1h-1zM170 632h1v1h-1zM188 632h1v1h-1zM207 632h1v1h-1zM226 632h1v1h-1zM245 632h1v1h-1zM264 632h1v1h-1zM282 632h1v1h-1zM301 632h1v1h-1zM320 632h1v1h-1zM339 632h1v1h-1zM358 632h1v1h-1zM377 632h1v1h-1zM395 632h1v1h-1zM414 632h1v1h-1zM433 632h1v1h-1zM452 632h1v1h-1zM471 632h1v1h-1zM489 632h1v1h-1zM508 632h1v1h-1zM527 632h1v1h-1zM546 632h1v1h-1zM565 632h1v1h-1zM584 632h1v1h-1zM602 632h1v1h-1zM621 632h1v1h-1zM640 632h1v1h-1zM659 632h1v1h-1zM678 632h1v1h-1zM696 632h1v1h-1zM715 632h1v1h-1zM734 632h1v1h-1zM753 632h1v1h-1zM772 632h1v1h-1zM784 632h1v1h-1zM64 633h1v1h-1zM75 633h1v1h-1zM94 633h1v1h-1zM113 633h1v1h-1zM132 633h1v1h-1zM151 633h1v1h-1zM170 633h1v1h-1zM188 633h1v1h-1zM207 633h1v1h-1zM226 633h1v1h-1zM245 633h1v1h-1zM264 633h1v1h-1zM282 633h1v1h-1zM301 633h1v1h-1zM320 633h1v1h-1zM339 633h1v1h-1zM358 633h1v1h-1zM377 633h1v1h-1zM395 633h1v1h-1zM414 633h1v1h-1zM433 633h1v1h-1zM452 633h1v1h-1zM471 633h1v1h-1zM489 633h1v1h-1zM508 633h1v1h-1zM527 633h1v1h-1zM546 633h1v1h-1zM565 633h1v1h-1zM584 633h1v1h-1zM602 633h1v1h-1zM621 633h1v1h-1zM640 633h1v1h-1zM659 633h1v1h-1zM678 633h1v1h-1zM696 633h1v1h-1zM715 633h1v1h-1zM734 633h1v1h-1zM753 633h1v1h-1zM772 633h1v1h-1zM784 633h1v1h-1zM64 634h1v1h-1zM75 634h1v1h-1zM94 634h1v1h-1zM113 634h1v1h-1zM132 634h1v1h-1zM151 634h1v1h-1zM170 634h1v1h-1zM188 634h1v1h-1zM207 634h1v1h-1zM226 634h1v1h-1zM245 634h1v1h-1zM264 634h1v1h-1zM282 634h1v1h-1zM301 634h1v1h-1zM320 634h1v1h-1zM339 634h1v1h-1zM358 634h1v1h-1zM377 634h1v1h-1zM395 634h1v1h-1zM414 634h1v1h-1zM433 634h1v1h-1zM452 634h1v1h-1zM471 634h1v1h-1zM489 634h1v1h-1zM508 634h1v1h-1zM527 634h1v1h-1zM546 634h1v1h-1zM565 634h1v1h-1zM584 634h1v1h-1zM602 634h1v1h-1zM621 634h1v1h-1zM640 634h1v1h-1zM659 634h1v1h-1zM678 634h1v1h-1zM696 634h1v1h-1zM715 634h1v1h-1zM734 634h1v1h-1zM753 634h1v1h-1zM772 634h1v1h-1zM784 634h1v1h-1zM64 635h721v1h-721z"/>
<path fill="#00ff00" d="M124 86h1v1h-1zM125 87h1v1h-1zM126 88h1v1h-1zM127 89h1v1h-1zM128 90h1v1h-1zM129 91h1v1h-1zM130 92h1v1h-1zM131 93h1v1h-1zM132 94h1v1h-1zM133 95h1v1h-1zM134 96h1v1h-1zM135 97h1v1h-1zM136 98h1v1h-1zM137 99h1v1h-1zM138 100h1v1h-1zM139 101h1v1h-1zM140 102h1v1h-1zM141 103h1v1h-1zM142 104h1v1h-1zM143 105h1v1h-1zM144 106h1v1h-1zM145 107h1v1h-1zM146 108h1v1h-1zM147 109h1v1h-1zM148 110h1v1h-1zM149 111h1v1h-1zM150 112h2v1h-2zM152 113h2v1h-2zM154 114h1v1h-1zM155 115h1v1h-1zM156 116h2v1h-2zM158 117h1v1h-1zM159 118h1v1h-1zM160 119h2v1h-2zM162 120h1v1h-1zM163 121h1v1h-1zM164 122h2v1h-2zM166 123h1v1h-1zM167 124h2v1h-2zM169 125h2v1h-2zM171 126h1v1h-1zM172 127h2v1h-2zM174 128h1v1h-1zM175 129h1v1h-1zM176 130h1v1h-1zM177 131h1v1h-1zM178 132h2v1h-2zM180 133h1v1h-1zM181 134h1v1h-1zM182 135h1v1h-1zM183 136h1v1h-1zM184 137h1v1h-1zM185 138h1v1h-1zM186 139h1v1h-1zM187 140h1v1h-1zM188 141h1v1h-1zM189 142h1v1h-1zM190 143h1v1h-1zM191 144h1v1h-1zM192 145h1v1h-1zM193 146h1v1h-1zM194 147h1v1h-1zM195 148h1v1h-1zM196 149h1v1h-1zM197 150h1v1h-1zM198 151h1v1h-1zM199 152h1v1h-1zM200 153h1v1h-1zM201 154h1v1h-1zM202 155h1v1h-1zM203 156h1v1h-1zM204 157h1v1h-1zM205 158h1v1h-1zM206 159h17v1h-17zM223 160h4v1h-4zM227 161h4v1h-4zM231 162h2v1h-2zM233 163h3v1h-3zM236 164h2v1h-2zM238 165h2v1h-2zM240 166h2v1h-2zM242 167h2v1h-2zM244 168h2v1h-2zM246 169h1v1h-1zM247 170h1v1h-1zM248 171h1v1h-1zM249 172h2v1h-2zM251 173h1v1h-1zM252 174h1v1h-1zM253 175h2v1h-2zM255 176h2v1h-2zM257 177h2v1h-2zM259 178h2v1h-2zM261 179h2v1h-2zM263 180h2v1h-2zM265 181h2v1h-2zM267 182h2v1h-2zM269 183h2v1h-2zM271 184h3v1h-3zM274 185h4v1h-4zM278 186h4v1h-4zM282 187h4v1h-4zM286 188h4v1h-4zM290 189h2v1h-2zM292 190h3v1h-3zM295 191h2v1h-2zM297 192h2v1h-2zM299 193h2v1h-2zM301 194h2v1h-2zM303 195h2v1h-2zM305 196h2v1h-2zM307 197h2v1h-2zM309 198h1v1h-1zM310 199h2v1h-2zM312 200h2v1h-2zM314 201h1v1h-1zM315 202h2v1h-2zM317 203h2v1h-2zM319 204h2v1h-2zM321 205h2v1h-2zM323 206h4v1h-4zM327 207h4v1h-4zM331 208h3v1h-3zM334 209h2v1h-2zM336 210h3v1h-3zM339 211h2v1h-2zM341 212h3v1h-3zM344 213h2v1h-2zM346 214h3v1h-3zM349 215h2v1h-2zM351 216h4v1h-4zM355 217h8v1h-8zM363 218h10v1h-10zM373 219h10v1h-10zM405 219h11v1h-11zM383 220h22v1h-22zM416 220h2v1h-2zM418 221h2v1h-2zM420 222h1v1h-1zM421 223h2v1h-2zM423 224h2v1h-2zM425 225h2v1h-2zM427 226h2v1h-2zM429 227h2v1h-2zM431 228h2v1h-2zM433 229h3v1h-3zM436 230h2v1h-2zM438 231h2v1h-2zM440 232h3v1h-3zM443 233h2v1h-2zM445 234h2v1h-2zM447 235h3v1h-3zM450 236h2v1h-2zM452 237h2v1h-2zM454 238h2v1h-2zM456 239h3v1h-3zM459 240h2v1h-2zM461 241h2v1h-2zM463 242h3v1h-3zM466 243h2v1h-2zM468 244h2v1h-2zM470 245h3v1h-3zM473 246h2v1h-2zM475 247h3v1h-3zM478 248h3v1h-3zM481 249h4v1h-4zM485 250h3v1h-3zM488 251h5v1h-5zM493 252h6v1h-6zM579 252h3v1h-3zM499 253h7v1h-7zM575 253h4v1h-4zM582 253h2v1h-2zM506 254h6v1h-6zM570 254h5v1h-5zM584 254h2v1h-2zM656 254h4v1h-4zM512 255h9v1h-9zM565 255h5v1h-5zM586 255h2v1h-2zM654 255h2v1h-2zM660 255h4v1h-4zM521 256h8v1h-8zM561 256h4v1h-4zM588 256h2v1h-2zM652 256h2v1h-2zM664 256h5v1h-5zM529 257h6v1h-6zM556 257h5v1h-5zM590 257h2v1h-2zM650 257h2v1h-2zM669 257h5v1h-5zM535 258h7v1h-7zM552 258h4v1h-4zM592 258h2v1h-2zM647 258h3v1h-3zM674 258h4v1h-4zM542 259h10v1h-10zM594 259h2v1h-2zM645 259h2v1h-2zM678 259h5v1h-5zM596 260h2v1h-2zM643 260h2v1h-2zM683 260h5v1h-5zM598 261h2v1h-2zM641 261h2v1h-2zM688 261h4v1h-4zM600 262h2v1h-2zM638 262h3v1h-3zM692 262h5v1h-5zM602 263h2v1h-2zM636 263h2v1h-2zM697 263h5v1h-5zM604 264h2v1h-2zM634 264h2v1h-2zM702 264h6v1h-6zM606 265h2v1h-2zM632 265h2v1h-2zM708 265h5v1h-5zM608 266h2v1h-2zM630 266h2v1h-2zM713 266h5v1h-5zM610 267h2v1h-2zM627 267h3v1h-3zM718 267h6v1h-6zM612 268h2v1h-2zM625 268h2v1h-2zM724 268h5v1h-5zM614 269h2v1h-2zM623 269h2v1h-2zM729 269h5v1h-5zM616 270h2v1h-2zM621 270h2v1h-2zM734 270h6v1h-6zM618 271h3v1h-3zM740 271h3v1h-3z"/>
<path fill="#ff0000" d="M124 73h1v1h-1zM125 74h1v1h-1zM126 75h1v1h-1zM127 76h1v1h-1zM127 77h1v1h-1zM128 78h1v1h-1zM129 79h1v1h-1zM130 80h1v1h-1zM131 81h1v1h-1zM132 82h1v1h-1zM133 83h1v1h-1zM134 84h2v1h-2zM136 85h1v1h-1zM137 86h1v1h-1zM138 87h1v1h-1zM139 88h1v1h-1zM140 89h1v1h-1zM141 90h1v1h-1zM142 91h1v1h-1zM143 92h1v1h-1zM144 93h1v1h-1zM145 94h1v1h-1zM146 95h2v1h-2zM148 96h1v1h-1zM149 97h2v1h-2zM151 98h1v1h-1zM152 99h1v1h-1zM153 100h1v1h-1zM154 101h2v1h-2zM156 102h1v1h-1zM157 103h1v1h-1zM158 104h1v1h-1zM159 105h1v1h-1zM160 106h1v1h-1zM161 107h1v1h-1zM162 108h1v1h-1zM163 109h1v1h-1zM164 110h2v1h-2zM166 111h1v1h-1zM167 112h1v1h-1zM168 113h2v1h-2zM170 114h1v1h-1zM171 115h1v1h-1zM172 116h1v1h-1zM173 117h1v1h-1zM174 118h1v1h-1zM175 119h1v1h-1zM176 120h1v1h-1zM177 121h1v1h-1zM178 122h1v1h-1zM179 123h1v1h-1zM180 124h1v1h-1zM181 125h1v1h-1zM182 126h1v1h-1zM183 127h1v1h-1zM184 128h1v1h-1zM185 129h1v1h-1zM186 130h1v1h-1zM187 131h1v1h-1zM188 132h1v1h-1zM189 133h1v1h-1zM190 134h1v1h-1zM191 135h1v1h-1zM192 136h1v1h-1zM193 137h1v1h-1zM194 138h3v1h-3zM197 139h7v1h-7zM204 140h4v1h-4zM208 141h2v1h-2zM210 142h2v1h-2zM212 143h2v1h-2zM214 144h2v1h-2zM216 145h4v1h-4zM220 146h4v1h-4zM224 147h2v1h-2zM226 148h3v1h-3zM229 149h2v1h-2zM231 150h2v1h-2zM233 151h2v1h-2zM235 152h2v1h-2zM237 153h2v1h-2zM239 154h3v1h-3zM242 155h2v1h-2zM244 156h1v1h-1zM244 157h1v1h-1zM245 158h1v1h-1zM246 159h1v1h-1zM246 160h1v1h-1zM247 161h1v1h-1zM247 162h1v1h-1zM248 163h1v1h-1zM249 164h1v1h-1zM249 165h1v1h-1zM250 166h1v1h-1zM251 167h1v1h-1zM251 168h1v1h-1zM252 169h1v1h-1zM253 170h1v1h-1zM254 171h1v1h-1zM254 172h1v1h-1zM255 173h1v1h-1zM256 174h1v1h-1zM257 175h1v1h-1zM257 176h1v1h-1zM258 177h1v1h-1zM259 178h2v1h-2zM261 179h1v1h-1zM262 180h1v1h-1zM263 181h2v1h-2zM265 182h2v1h-2zM267 183h3v1h-3zM270 184h3v1h-3zM273 185h3v1h-3zM281 185h11v1h-11zM276 186h5v1h-5zM292 186h2v1h-2zM294 187h2v1h-2zM296 188h2v1h-2zM298 189h2v1h-2zM300 190h2v1h-2zM302 191h2v1h-2zM304 192h2v1h-2zM306 193h3v1h-3zM334 193h6v1h-6zM309 194h3v1h-3zM331 194h3v1h-3zM340 194h2v1h-2zM312 195h5v1h-5zM326 195h5v1h-5zM342 195h3v1h-3zM317 196h9v1h-9zM345 196h2v1h-2zM347 197h3v1h-3zM350 198h3v1h-3zM353 199h2v1h-2zM355 200h2v1h-2zM357 201h2v1h-2zM359 202h2v1h-2zM361 203h1v1h-1zM362 204h2v1h-2zM364 205h2v1h-2zM366 206h1v1h-1zM367 207h2v1h-2zM369 208h1v1h-1zM370 209h2v1h-2zM372 210h2v1h-2zM374 211h2v1h-2zM376 212h2v1h-2zM378 213h1v1h-1zM379 214h1v1h-1zM380 215h2v1h-2zM382 216h1v1h-1zM383 217h1v1h-1zM384 218h2v1h-2zM386 219h1v1h-1zM387 220h2v1h-2zM434 220h4v1h-4zM389 221h2v1h-2zM430 221h4v1h-4zM438 221h5v1h-5zM391 222h5v1h-5zM423 222h7v1h-7zM443 222h5v1h-5zM396 223h9v1h-9zM418 223h5v1h-5zM448 223h4v1h-4zM405 224h9v1h-9zM418 224h1v1h-1zM452 224h6v1h-6zM414 225h4v1h-4zM458 225h5v1h-5zM463 226h1v1h-1zM464 227h1v1h-1zM465 228h1v1h-1zM466 229h1v1h-1zM467 230h1v1h-1zM468 231h1v1h-1zM469 232h1v1h-1zM470 233h1v1h-1zM471 234h1v1h-1zM472 235h1v1h-1zM473 236h1v1h-1zM474 237h1v1h-1zM475 238h1v1h-1zM476 239h2v1h-2zM478 240h1v1h-1zM479 241h1v1h-1zM480 242h1v1h-1zM481 243h1v1h-1zM648 243h10v1h-10zM482 244h1v1h-1zM629 244h19v1h-19zM658 244h1v1h-1zM483 245h1v1h-1zM618 245h11v1h-11zM659 245h2v1h-2zM484 246h1v1h-1zM616 246h2v1h-2zM661 246h1v1h-1zM485 247h1v1h-1zM615 247h1v1h-1zM662 247h1v1h-1zM486 248h1v1h-1zM543 248h8v1h-8zM614 248h1v1h-1zM663 248h2v1h-2zM487 249h1v1h-1zM527 249h16v1h-16zM551 249h1v1h-1zM612 249h2v1h-2zM665 249h1v1h-1zM488 250h1v1h-1zM502 250h25v1h-25zM552 250h2v1h-2zM611 250h1v1h-1zM666 250h1v1h-1zM489 251h13v1h-13zM554 251h1v1h-1zM609 251h2v1h-2zM667 251h2v1h-2zM555 252h1v1h-1zM608 252h1v1h-1zM669 252h1v1h-1zM556 253h2v1h-2zM607 253h1v1h-1zM670 253h1v1h-1zM558 254h1v1h-1zM605 254h2v1h-2zM671 254h1v1h-1zM559 255h2v1h-2zM604 255h1v1h-1zM672 255h2v1h-2zM561 256h1v1h-1zM603 256h1v1h-1zM674 256h1v1h-1zM562 257h1v1h-1zM601 257h2v1h-2zM675 257h1v1h-1zM563 258h2v1h-2zM600 258h1v1h-1zM676 258h2v1h-2zM565 259h1v1h-1zM598 259h2v1h-2zM678 259h1v1h-1zM566 260h2v1h-2zM597 260h1v1h-1zM679 260h1v1h-1zM568 261h1v1h-1zM596 261h1v1h-1zM680 261h2v1h-2zM569 262h2v1h-2zM594 262h2v1h-2zM682 262h1v1h-1zM571 263h1v1h-1zM593 263h1v1h-1zM683 263h1v1h-1zM572 264h1v1h-1zM591 264h2v1h-2zM684 264h1v1h-1zM573 265h2v1h-2zM590 265h1v1h-1zM685 265h2v1h-2zM575 266h1v1h-1zM589 266h1v1h-1zM687 266h1v1h-1zM576 267h2v1h-2zM587 267h2v1h-2zM688 267h1v1h-1zM578 268h1v1h-1zM586 268h1v1h-1zM689 268h2v1h-2zM579 269h1v1h-1zM585 269h1v1h-1zM691 269h1v1h-1zM580 270h2v1h-2zM583 270h2v1h-2zM692 270h1v1h-1zM582 271h1v1h-1zM693 271h2v1h-2zM695 272h1v1h-1zM696 273h2v1h-2zM698 274h2v1h-2zM700 275h2v1h-2zM702 276h2v1h-2zM704 277h2v1h-2zM706 278h3v1h-3zM709 279h2v1h-2zM711 280h2v1h-2zM713 281h2v1h-2zM715 282h2v1h-2zM717 283h2v1h-2zM719 284h3v1h-3zM722 285h2v1h-2zM724 286h2v1h-2zM726 287h2v1h-2zM728 288h2v1h-2zM730 289h3v1h-3zM733 290h2v1h-2zM735 291h2v1h-2zM737 292h2v1h-2zM739 293h2v1h-2zM741 294h2v1h-2z"/>
<path fill="#ffffff" d="M282 438h1v1h-1zM281 439h2v1h-2zM281 440h1v1h-1zM283 440h1v1h-1zM280 441h1v1h-1zM283 441h1v1h-1zM279 442h1v1h-1zM283 442h1v1h-1zM279 443h1v1h-1zM284 443h1v1h-1zM278 444h1v1h-1zM284 444h1v1h-1zM277 445h1v1h-1zM284 445h1v1h-1zM277 446h1v1h-1zM284 446h1v1h-1zM276 447h1v1h-1zM285 447h1v1h-1zM275 448h1v1h-1zM285 448h1v1h-1zM275 449h1v1h-1zM285 449h1v1h-1zM274 450h1v1h-1zM286 450h1v1h-1zM137 451h1v1h-1zM273 451h1v1h-1zM286 451h1v1h-1zM138 452h2v1h-2zM273 452h1v1h-1zM286 452h1v1h-1zM140 453h2v1h-2zM272 453h1v1h-1zM287 453h1v1h-1zM142 454h2v1h-2zM271 454h1v1h-1zM287 454h1v1h-1zM144 455h1v1h-1zM271 455h1v1h-1zM287 455h1v1h-1zM145 456h2v1h-2zM270 456h1v1h-1zM288 456h1v1h-1zM147 457h2v1h-2zM269 457h1v1h-1zM288 457h1v1h-1zM149 458h2v1h-2zM269 458h1v1h-1zM288 458h1v1h-1zM151 459h2v1h-2zM268 459h1v1h-1zM289 459h1v1h-1zM153 460h3v1h-3zM267 460h1v1h-1zM289 460h1v1h-1zM156 461h4v1h-4zM266 461h1v1h-1zM289 461h1v1h-1zM160 462h4v1h-4zM264 462h2v1h-2zM289 462h1v1h-1zM164 463h3v1h-3zM263 463h1v1h-1zM290 463h1v1h-1zM167 464h1v1h-1zM262 464h1v1h-1zM290 464h1v1h-1zM168 465h1v1h-1zM238 465h2v1h-2zM261 465h1v1h-1zM290 465h1v1h-1zM169 466h1v1h-1zM238 466h1v1h-1zM240 466h2v1h-2zM260 466h1v1h-1zM291 466h1v1h-1zM170 467h1v1h-1zM237 467h1v1h-1zM242 467h2v1h-2zM259 467h1v1h-1zM291 467h1v1h-1zM171 468h1v1h-1zM237 468h1v1h-1zM244 468h2v1h-2zM258 468h1v1h-1zM291 468h1v1h-1zM418 468h1v1h-1zM172 469h1v1h-1zM237 469h1v1h-1zM246 469h2v1h-2zM256 469h2v1h-2zM292 469h1v1h-1zM417 469h2v1h-2zM551 469h1v1h-1zM173 470h1v1h-1zM236 470h1v1h-1zM248 470h2v1h-2zM255 470h1v1h-1zM292 470h1v1h-1zM415 470h2v1h-2zM419 470h1v1h-1zM550 470h2v1h-2zM174 471h1v1h-1zM236 471h1v1h-1zM250 471h2v1h-2zM254 471h1v1h-1zM292 471h1v1h-1zM414 471h1v1h-1zM419 471h1v1h-1zM550 471h2v1h-2zM174 472h1v1h-1zM194 472h2v1h-2zM236 472h1v1h-1zM252 472h2v1h-2zM293 472h1v1h-1zM413 472h1v1h-1zM419 472h1v1h-1zM549 472h1v1h-1zM552 472h1v1h-1zM175 473h1v1h-1zM192 473h2v1h-2zM196 473h1v1h-1zM236 473h1v1h-1zM293 473h1v1h-1zM412 473h1v1h-1zM420 473h1v1h-1zM548 473h1v1h-1zM552 473h1v1h-1zM176 474h1v1h-1zM190 474h2v1h-2zM197 474h1v1h-1zM235 474h1v1h-1zM293 474h1v1h-1zM411 474h1v1h-1zM420 474h1v1h-1zM548 474h1v1h-1zM552 474h1v1h-1zM177 475h1v1h-1zM188 475h2v1h-2zM198 475h1v1h-1zM235 475h1v1h-1zM294 475h1v1h-1zM410 475h1v1h-1zM420 475h1v1h-1zM547 475h1v1h-1zM552 475h1v1h-1zM178 476h1v1h-1zM186 476h2v1h-2zM198 476h1v1h-1zM235 476h1v1h-1zM294 476h1v1h-1zM408 476h2v1h-2zM421 476h1v1h-1zM546 476h1v1h-1zM552 476h1v1h-1zM179 477h1v1h-1zM184 477h2v1h-2zM199 477h1v1h-1zM234 477h1v1h-1zM294 477h1v1h-1zM407 477h1v1h-1zM421 477h1v1h-1zM546 477h1v1h-1zM552 477h1v1h-1zM180 478h1v1h-1zM182 478h2v1h-2zM200 478h1v1h-1zM234 478h1v1h-1zM294 478h1v1h-1zM406 478h1v1h-1zM421 478h1v1h-1zM545 478h1v1h-1zM553 478h1v1h-1zM181 479h1v1h-1zM201 479h1v1h-1zM234 479h1v1h-1zM295 479h1v1h-1zM405 479h1v1h-1zM422 479h1v1h-1zM544 479h1v1h-1zM553 479h1v1h-1zM202 480h1v1h-1zM233 480h1v1h-1zM295 480h1v1h-1zM404 480h1v1h-1zM422 480h1v1h-1zM543 480h1v1h-1zM553 480h1v1h-1zM203 481h1v1h-1zM233 481h1v1h-1zM295 481h1v1h-1zM403 481h1v1h-1zM423 481h1v1h-1zM542 481h1v1h-1zM553 481h1v1h-1zM204 482h1v1h-1zM233 482h1v1h-1zM296 482h1v1h-1zM402 482h1v1h-1zM423 482h1v1h-1zM541 482h1v1h-1zM553 482h1v1h-1zM204 483h1v1h-1zM232 483h1v1h-1zM296 483h1v1h-1zM400 483h2v1h-2zM423 483h1v1h-1zM540 483h1v1h-1zM553 483h1v1h-1zM205 484h1v1h-1zM232 484h1v1h-1zM297 484h1v1h-1zM399 484h1v1h-1zM424 484h1v1h-1zM539 484h1v1h-1zM554 484h1v1h-1zM206 485h1v1h-1zM232 485h1v1h-1zM297 485h1v1h-1zM398 485h1v1h-1zM424 485h1v1h-1zM537 485h2v1h-2zM554 485h1v1h-1zM207 486h1v1h-1zM232 486h1v1h-1zM298 486h1v1h-1zM397 486h1v1h-1zM424 486h1v1h-1zM536 486h1v1h-1zM554 486h1v1h-1zM208 487h1v1h-1zM231 487h1v1h-1zM298 487h1v1h-1zM397 487h1v1h-1zM425 487h1v1h-1zM535 487h1v1h-1zM554 487h1v1h-1zM209 488h1v1h-1zM231 488h1v1h-1zM299 488h1v1h-1zM396 488h1v1h-1zM425 488h1v1h-1zM534 488h1v1h-1zM554 488h1v1h-1zM210 489h1v1h-1zM231 489h1v1h-1zM299 489h1v1h-1zM396 489h1v1h-1zM425 489h1v1h-1zM533 489h1v1h-1zM555 489h1v1h-1zM210 490h1v1h-1zM230 490h1v1h-1zM300 490h1v1h-1zM395 490h1v1h-1zM426 490h1v1h-1zM532 490h1v1h-1zM555 490h1v1h-1zM211 491h1v1h-1zM230 491h1v1h-1zM300 491h1v1h-1zM395 491h1v1h-1zM426 491h1v1h-1zM531 491h1v1h-1zM555 491h1v1h-1zM212 492h1v1h-1zM230 492h1v1h-1zM301 492h1v1h-1zM395 492h1v1h-1zM426 492h1v1h-1zM530 492h1v1h-1zM555 492h1v1h-1zM213 493h1v1h-1zM229 493h1v1h-1zM301 493h1v1h-1zM394 493h1v1h-1zM427 493h1v1h-1zM529 493h1v1h-1zM555 493h1v1h-1zM214 494h1v1h-1zM229 494h1v1h-1zM302 494h1v1h-1zM394 494h1v1h-1zM427 494h1v1h-1zM528 494h1v1h-1zM555 494h1v1h-1zM215 495h1v1h-1zM229 495h1v1h-1zM302 495h1v1h-1zM394 495h1v1h-1zM427 495h1v1h-1zM527 495h1v1h-1zM556 495h1v1h-1zM216 496h1v1h-1zM228 496h1v1h-1zM303 496h1v1h-1zM393 496h1v1h-1zM428 496h1v1h-1zM526 496h1v1h-1zM556 496h1v1h-1zM216 497h1v1h-1zM228 497h1v1h-1zM303 497h1v1h-1zM393 497h1v1h-1zM428 497h1v1h-1zM525 497h1v1h-1zM556 497h1v1h-1zM217 498h1v1h-1zM228 498h1v1h-1zM304 498h1v1h-1zM392 498h1v1h-1zM428 498h1v1h-1zM524 498h1v1h-1zM556 498h1v1h-1zM218 499h1v1h-1zM227 499h1v1h-1zM304 499h1v1h-1zM392 499h1v1h-1zM429 499h1v1h-1zM523 499h1v1h-1zM556 499h1v1h-1zM219 500h1v1h-1zM227 500h1v1h-1zM305 500h1v1h-1zM392 500h1v1h-1zM429 500h1v1h-1zM522 500h1v1h-1zM556 500h1v1h-1zM220 501h1v1h-1zM227 501h1v1h-1zM305 501h1v1h-1zM391 501h1v1h-1zM430 501h1v1h-1zM521 501h1v1h-1zM557 501h1v1h-1zM221 502h1v1h-1zM227 502h1v1h-1zM306 502h1v1h-1zM391 502h1v1h-1zM430 502h1v1h-1zM520 502h1v1h-1zM557 502h1v1h-1zM222 503h1v1h-1zM226 503h1v1h-1zM306 503h1v1h-1zM390 503h1v1h-1zM430 503h1v1h-1zM520 503h1v1h-1zM557 503h1v1h-1zM222 504h1v1h-1zM226 504h1v1h-1zM307 504h1v1h-1zM390 504h1v1h-1zM431 504h1v1h-1zM519 504h1v1h-1zM557 504h1v1h-1zM223 505h1v1h-1zM226 505h1v1h-1zM307 505h1v1h-1zM342 505h1v1h-1zM390 505h1v1h-1zM431 505h1v1h-1zM519 505h1v1h-1zM557 505h1v1h-1zM224 506h2v1h-2zM308 506h1v1h-1zM342 506h2v1h-2zM389 506h1v1h-1zM431 506h1v1h-1zM518 506h1v1h-1zM558 506h1v1h-1zM225 507h1v1h-1zM308 507h1v1h-1zM341 507h1v1h-1zM343 507h1v1h-1zM389 507h1v1h-1zM432 507h1v1h-1zM518 507h1v1h-1zM558 507h1v1h-1zM309 508h1v1h-1zM341 508h1v1h-1zM344 508h1v1h-1zM388 508h1v1h-1zM432 508h1v1h-1zM517 508h1v1h-1zM558 508h1v1h-1zM309 509h1v1h-1zM340 509h1v1h-1zM344 509h1v1h-1zM388 509h1v1h-1zM432 509h1v1h-1zM517 509h1v1h-1zM558 509h1v1h-1zM310 510h1v1h-1zM340 510h1v1h-1zM345 510h1v1h-1zM388 510h1v1h-1zM433 510h1v1h-1zM516 510h1v1h-1zM558 510h1v1h-1zM310 511h1v1h-1zM340 511h1v1h-1zM345 511h1v1h-1zM387 511h1v1h-1zM433 511h1v1h-1zM516 511h1v1h-1zM558 511h1v1h-1zM311 512h1v1h-1zM339 512h1v1h-1zM346 512h1v1h-1zM387 512h1v1h-1zM433 512h1v1h-1zM515 512h1v1h-1zM559 512h1v1h-1zM311 513h1v1h-1zM339 513h1v1h-1zM346 513h1v1h-1zM387 513h1v1h-1zM434 513h1v1h-1zM515 513h1v1h-1zM559 513h1v1h-1zM312 514h1v1h-1zM338 514h1v1h-1zM347 514h1v1h-1zM386 514h1v1h-1zM434 514h1v1h-1zM514 514h1v1h-1zM559 514h1v1h-1zM312 515h1v1h-1zM338 515h1v1h-1zM347 515h1v1h-1zM386 515h1v1h-1zM434 515h1v1h-1zM514 515h1v1h-1zM559 515h1v1h-1zM313 516h1v1h-1zM338 516h1v1h-1zM348 516h1v1h-1zM385 516h1v1h-1zM435 516h1v1h-1zM513 516h1v1h-1zM559 516h1v1h-1zM313 517h1v1h-1zM337 517h1v1h-1zM348 517h1v1h-1zM385 517h1v1h-1zM435 517h1v1h-1zM513 517h1v1h-1zM559 517h1v1h-1zM314 518h1v1h-1zM337 518h1v1h-1zM349 518h1v1h-1zM385 518h1v1h-1zM435 518h1v1h-1zM512 518h1v1h-1zM560 518h1v1h-1zM314 519h1v1h-1zM336 519h1v1h-1zM349 519h1v1h-1zM384 519h1v1h-1zM436 519h1v1h-1zM512 519h1v1h-1zM560 519h1v1h-1zM315 520h1v1h-1zM336 520h1v1h-1zM350 520h1v1h-1zM384 520h1v1h-1zM436 520h1v1h-1zM511 520h1v1h-1zM560 520h1v1h-1zM315 521h1v1h-1zM336 521h1v1h-1zM350 521h1v1h-1zM383 521h1v1h-1zM436 521h1v1h-1zM511 521h1v1h-1zM560 521h1v1h-1zM316 522h1v1h-1zM335 522h1v1h-1zM351 522h1v1h-1zM383 522h1v1h-1zM437 522h1v1h-1zM510 522h1v1h-1zM560 522h1v1h-1zM316 523h1v1h-1zM335 523h1v1h-1zM351 523h1v1h-1zM383 523h1v1h-1zM437 523h1v1h-1zM510 523h1v1h-1zM560 523h1v1h-1zM317 524h1v1h-1zM334 524h1v1h-1zM352 524h1v1h-1zM382 524h1v1h-1zM438 524h1v1h-1zM509 524h1v1h-1zM561 524h1v1h-1zM317 525h1v1h-1zM334 525h1v1h-1zM352 525h1v1h-1zM382 525h1v1h-1zM438 525h1v1h-1zM509 525h1v1h-1zM561 525h1v1h-1zM318 526h1v1h-1zM333 526h1v1h-1zM353 526h1v1h-1zM381 526h1v1h-1zM438 526h1v1h-1zM508 526h1v1h-1zM561 526h1v1h-1zM318 527h1v1h-1zM333 527h1v1h-1zM353 527h1v1h-1zM381 527h1v1h-1zM439 527h1v1h-1zM508 527h1v1h-1zM561 527h1v1h-1zM319 528h1v1h-1zM333 528h1v1h-1zM353 528h1v1h-1zM380 528h1v1h-1zM439 528h1v1h-1zM507 528h1v1h-1zM561 528h1v1h-1zM319 529h1v1h-1zM332 529h1v1h-1zM354 529h1v1h-1zM380 529h1v1h-1zM439 529h1v1h-1zM507 529h1v1h-1zM562 529h1v1h-1zM320 530h1v1h-1zM332 530h1v1h-1zM354 530h1v1h-1zM380 530h1v1h-1zM440 530h1v1h-1zM507 530h1v1h-1zM562 530h1v1h-1zM320 531h1v1h-1zM331 531h1v1h-1zM355 531h1v1h-1zM379 531h1v1h-1zM440 531h1v1h-1zM506 531h1v1h-1zM562 531h1v1h-1zM321 532h1v1h-1zM331 532h1v1h-1zM355 532h1v1h-1zM379 532h1v1h-1zM440 532h1v1h-1zM506 532h1v1h-1zM562 532h1v1h-1zM321 533h1v1h-1zM331 533h1v1h-1zM356 533h1v1h-1zM378 533h1v1h-1zM441 533h1v1h-1zM505 533h1v1h-1zM562 533h1v1h-1zM322 534h1v1h-1zM330 534h1v1h-1zM356 534h1v1h-1zM377 534h2v1h-2zM441 534h1v1h-1zM505 534h1v1h-1zM562 534h1v1h-1zM323 535h1v1h-1zM330 535h1v1h-1zM357 535h1v1h-1zM375 535h2v1h-2zM442 535h1v1h-1zM504 535h1v1h-1zM563 535h1v1h-1zM323 536h1v1h-1zM329 536h1v1h-1zM357 536h1v1h-1zM373 536h2v1h-2zM442 536h1v1h-1zM504 536h1v1h-1zM563 536h1v1h-1zM324 537h1v1h-1zM329 537h1v1h-1zM358 537h1v1h-1zM371 537h2v1h-2zM443 537h1v1h-1zM503 537h1v1h-1zM563 537h1v1h-1zM325 538h1v1h-1zM329 538h1v1h-1zM358 538h1v1h-1zM368 538h3v1h-3zM443 538h1v1h-1zM503 538h1v1h-1zM563 538h1v1h-1zM325 539h1v1h-1zM328 539h1v1h-1zM359 539h1v1h-1zM366 539h2v1h-2zM444 539h1v1h-1zM502 539h1v1h-1zM563 539h1v1h-1zM326 540h1v1h-1zM328 540h1v1h-1zM359 540h1v1h-1zM364 540h2v1h-2zM444 540h1v1h-1zM502 540h1v1h-1zM563 540h1v1h-1zM326 541h2v1h-2zM360 541h1v1h-1zM362 541h2v1h-2zM445 541h1v1h-1zM501 541h1v1h-1zM564 541h1v1h-1zM327 542h1v1h-1zM360 542h2v1h-2zM445 542h1v1h-1zM501 542h1v1h-1zM564 542h1v1h-1zM446 543h1v1h-1zM500 543h1v1h-1zM564 543h1v1h-1zM446 544h1v1h-1zM500 544h1v1h-1zM564 544h1v1h-1zM447 545h1v1h-1zM499 545h1v1h-1zM564 545h1v1h-1zM447 546h1v1h-1zM499 546h1v1h-1zM565 546h1v1h-1zM448 547h1v1h-1zM498 547h1v1h-1zM565 547h1v1h-1zM448 548h1v1h-1zM498 548h1v1h-1zM565 548h1v1h-1zM449 549h1v1h-1zM497 549h1v1h-1zM565 549h1v1h-1zM449 550h1v1h-1zM497 550h1v1h-1zM565 550h1v1h-1zM450 551h1v1h-1zM496 551h1v1h-1zM565 551h1v1h-1zM450 552h1v1h-1zM496 552h1v1h-1zM566 552h1v1h-1zM451 553h1v1h-1zM495 553h1v1h-1zM566 553h1v1h-1zM451 554h1v1h-1zM495 554h1v1h-1zM566 554h1v1h-1zM452 555h1v1h-1zM494 555h1v1h-1zM566 555h1v1h-1zM452 556h1v1h-1zM494 556h1v1h-1zM566 556h1v1h-1zM453 557h1v1h-1zM493 557h1v1h-1zM566 557h1v1h-1zM453 558h1v1h-1zM492 558h1v1h-1zM567 558h1v1h-1zM454 559h1v1h-1zM491 559h1v1h-1zM567 559h1v1h-1zM454 560h1v1h-1zM491 560h1v1h-1zM567 560h1v1h-1zM455 561h1v1h-1zM490 561h1v1h-1zM567 561h1v1h-1zM455 562h1v1h-1zM489 562h1v1h-1zM567 562h1v1h-1zM456 563h1v1h-1zM488 563h1v1h-1zM568 563h1v1h-1zM456 564h1v1h-1zM487 564h1v1h-1zM568 564h1v1h-1zM457 565h1v1h-1zM486 565h1v1h-1zM568 565h1v1h-1zM457 566h1v1h-1zM485 566h1v1h-1zM568 566h1v1h-1zM458 567h1v1h-1zM484 567h1v1h-1zM568 567h1v1h-1zM458 568h1v1h-1zM484 568h1v1h-1zM568 568h1v1h-1zM459 569h1v1h-1zM483 569h1v1h-1zM569 569h1v1h-1zM459 570h1v1h-1zM482 570h1v1h-1zM569 570h1v1h-1zM460 571h1v1h-1zM481 571h1v1h-1zM569 571h1v1h-1zM460 572h1v1h-1zM480 572h1v1h-1zM569 572h1v1h-1zM461 573h1v1h-1zM479 573h1v1h-1zM569 573h1v1h-1zM461 574h1v1h-1zM478 574h1v1h-1zM569 574h1v1h-1zM462 575h1v1h-1zM477 575h1v1h-1zM570 575h1v1h-1zM462 576h1v1h-1zM476 576h1v1h-1zM570 576h1v1h-1zM463 577h1v1h-1zM475 577h1v1h-1zM570 577h1v1h-1zM463 578h1v1h-1zM474 578h1v1h-1zM570 578h1v1h-1zM464 579h1v1h-1zM474 579h1v1h-1zM570 579h1v1h-1zM464 580h1v1h-1zM473 580h1v1h-1zM571 580h1v1h-1zM465 581h1v1h-1zM472 581h1v1h-1zM571 581h1v1h-1zM465 582h1v1h-1zM471 582h1v1h-1zM571 582h1v1h-1zM466 583h1v1h-1zM470 583h1v1h-1zM571 583h1v1h-1zM466 584h1v1h-1zM469 584h1v1h-1zM571 584h1v1h-1zM467 585h2v1h-2zM571 585h1v1h-1zM467 586h1v1h-1zM572 586h1v1h-1zM572 587h1v1h-1zM572 588h1v1h-1zM572 589h1v1h-1zM572 590h1v1h-1zM572 591h1v1h-1zM573 592h1v1h-1zM573 593h1v1h-1zM573 594h1v1h-1zM573 595h1v1h-1zM573 596h1v1h-1zM573 597h1v1h-1zM574 598h1v1h-1zM574 599h1v1h-1zM574 600h1v1h-1zM574 601h1v1h-1zM574 602h1v1h-1zM575 603h1v1h-1zM575 604h1v1h-1zM575 605h1v1h-1zM575 606h1v1h-1zM575 607h1v1h-1zM575 608h1v1h-1zM576 609h1v1h-1zM576 610h1v1h-1zM576 611h1v1h-1zM576 612h1v1h-1zM576 613h1v1h-1zM576 614h1v1h-1zM577 615h1v1h-1zM577 616h1v1h-1zM577 617h1v1h-1zM577 618h1v1h-1zM577 619h1v1h-1zM578 620h1v1h-1zM578 621h1v1h-1zM578 622h1v1h-1zM578 623h1v1h-1zM578 624h1v1h-1zM578 625h1v1h-1zM579 626h1v1h-1zM579 627h1v1h-1zM579 628h1v1h-1zM579 629h1v1h-1zM579 630h1v1h-1zM579 631h1v1h-1zM580 632h1v1h-1zM580 633h1v1h-1zM580 634h1v1h-1z"/>
<path fill="#ff0000" d="M64 208h8v1h-8zM77 208h8v1h-8zM91 208h8v1h-8zM105 208h7v1h-7zM118 208h8v1h-8zM132 208h8v1h-8zM145 208h8v1h-8zM159 208h8v1h-8zM172 208h8v1h-8zM186 208h8v1h-8zM200 208h8v1h-8zM213 208h8v1h-8zM227 208h8v1h-8zM240 208h8v1h-8zM254 208h8v1h-8zM268 208h8v1h-8zM281 208h8v1h-8zM295 208h8v1h-8zM308 208h8v1h-8zM322 208h8v1h-8zM336 208h8v1h-8zM349 208h8v1h-8zM363 208h8v1h-8zM376 208h8v1h-8zM390 208h8v1h-8zM404 208h8v1h-8zM417 208h8v1h-8zM431 208h8v1h-8zM444 208h8v1h-8zM458 208h8v1h-8zM472 208h8v1h-8zM485 208h8v1h-8zM499 208h8v1h-8zM512 208h8v1h-8zM526 208h8v1h-8zM540 208h8v1h-8zM553 208h8v1h-8zM567 208h8v1h-8zM581 208h7v1h-7zM594 208h8v1h-8zM608 208h8v1h-8zM621 208h8v1h-8zM635 208h8v1h-8zM649 208h7v1h-7zM662 208h8v1h-8zM676 208h8v1h-8zM689 208h8v1h-8zM703 208h8v1h-8zM717 208h7v1h-7zM730 208h8v1h-8zM744 208h8v1h-8zM757 208h8v1h-8zM771 208h8v1h-8z"/>
<path fill="#00ff00" d="M64 234h8v1h-8zM77 234h8v1h-8zM91 234h8v1h-8zM105 234h7v1h-7zM118 234h8v1h-8zM132 234h8v1h-8zM145 234h8v1h-8zM159 234h8v1h-8zM172 234h8v1h-8zM186 234h8v1h-8zM200 234h8v1h-8zM213 234h8v1h-8zM227 234h8v1h-8zM240 234h8v1h-8zM254 234h8v1h-8zM268 234h8v1h-8zM281 234h8v1h-8zM295 234h8v1h-8zM308 234h8v1h-8zM322 234h8v1h-8zM336 234h8v1h-8zM349 234h8v1h-8zM363 234h8v1h-8zM376 234h8v1h-8zM390 234h8v1h-8zM404 234h8v1h-8zM417 234h8v1h-8zM431 234h8v1h-8zM444 234h8v1h-8zM458 234h8v1h-8zM472 234h8v1h-8zM485 234h8v1h-8zM499 234h8v1h-8zM512 234h8v1h-8zM526 234h8v1h-8zM540 234h8v1h-8zM553 234h8v1h-8zM567 234h8v1h-8zM581 234h7v1h-7zM594 234h8v1h-8zM608 234h8v1h-8zM621 234h8v1h-8zM635 234h8v1h-8zM649 234h7v1h-7zM662 234h8v1h-8zM676 234h8v1h-8zM689 234h8v1h-8zM703 234h8v1h-8zM717 234h7v1h-7zM730 234h8v1h-8zM744 234h8v1h-8zM757 234h8v1h-8zM771 234h8v1h-8z"/>
<path fill="#ffffff" d="M64 262h8v1h-8zM77 262h8v1h-8zM91 262h8v1h-8zM105 262h7v1h-7zM118 262h8v1h-8zM132 262h8v1h-8zM145 262h8v1h-8zM159 262h8v1h-8zM172 262h8v1h-8zM186 262h8v1h-8zM200 262h8v1h-8zM213 262h8v1h-8zM227 262h8v1h-8zM240 262h8v1h-8zM254 262h8v1h-8zM268 262h8v1h-8zM281 262h8v1h-8zM295 262h8v1h-8zM308 262h8v1h-8zM322 262h8v1h-8zM336 262h8v1h-8zM349 262h8v1h-8zM363 262h8v1h-8zM376 262h8v1h-8zM390 262h8v1h-8zM404 262h8v1h-8zM417 262h8v1h-8zM431 262h8v1h-8zM444 262h8v1h-8zM458 262h8v1h-8zM472 262h8v1h-8zM485 262h8v1h-8zM499 262h8v1h-8zM512 262h8v1h-8zM526 262h8v1h-8zM540 262h8v1h-8zM553 262h8v1h-8zM567 262h8v1h-8zM581 262h7v1h-7zM594 262h8v1h-8zM608 262h8v1h-8zM621 262h8v1h-8zM635 262h8v1h-8zM649 262h7v1h-7zM662 262h8v1h-8zM676 262h8v1h-8zM689 262h8v1h-8zM703 262h8v1h-8zM717 262h7v1h-7zM730 262h8v1h-8zM744 262h8v1h-8zM757 262h8v1h-8zM771 262h8v1h-8z"/>
<path fill="#ffff00" d="M64 518h8v1h-8zM77 518h8v1h-8zM91 518h8v1h-8zM105 518h7v1h-7zM118 518h8v1h-8zM132 518h8v1h-8zM145 518h8v1h-8zM159 518h8v1h-8zM172 518h8v1h-8zM186 518h8v1h-8zM200 518h8v1h-8zM213 518h8v1h-8zM227 518h8v1h-8zM240 518h8v1h-8zM254 518h8v1h-8zM268 518h8v1h-8zM281 518h8v1h-8zM295 518h8v1h-8zM308 518h8v1h-8zM322 518h8v1h-8zM336 518h8v1h-8zM349 518h8v1h-8zM363 518h8v1h-8zM376 518h8v1h-8zM390 518h8v1h-8zM404 518h8v1h-8zM417 518h8v1h-8zM431 518h8v1h-8zM444 518h8v1h-8zM458 518h8v1h-8zM472 518h8v1h-8zM485 518h8v1h-8zM499 518h8v1h-8zM512 518h8v1h-8zM526 518h8v1h-8zM540 518h8v1h-8zM553 518h8v1h-8zM567 518h8v1h-8zM581 518h7v1h-7zM594 518h8v1h-8zM608 518h8v1h-8zM621 518h8v1h-8zM635 518h8v1h-8zM649 518h7v1h-7zM662 518h8v1h-8zM676 518h8v1h-8zM689 518h8v1h-8zM703 518h8v1h-8zM717 518h7v1h-7zM730 518h8v1h-8zM744 518h8v1h-8zM757 518h8v1h-8zM771 518h8v1h-8z"/>
<path fill="#ff0000" d="M222 62h1v1h-1zM222 63h1v1h-1zM222 67h1v1h-1zM222 68h1v1h-1zM222 72h1v1h-1zM222 77h1v1h-1zM222 81h1v1h-1zM222 82h1v1h-1zM222 86h1v1h-1zM222 87h1v1h-1zM222 91h1v1h-1zM222 92h1v1h-1zM222 96h1v1h-1zM222 97h1v1h-1zM222 101h1v1h-1zM222 106h1v1h-1zM222 110h1v1h-1zM222 111h1v1h-1zM222 115h1v1h-1zM222 116h1v1h-1zM222 120h1v1h-1zM222 121h1v1h-1zM222 125h1v1h-1zM222 126h1v1h-1zM222 130h1v1h-1zM222 135h1v1h-1zM222 139h1v1h-1zM222 140h1v1h-1zM222 144h1v1h-1zM222 145h1v1h-1zM222 149h1v1h-1zM222 150h1v1h-1zM222 154h1v1h-1zM222 159h1v1h-1zM222 163h1v1h-1zM222 164h1v1h-1zM222 168h1v1h-1zM222 169h1v1h-1zM222 173h1v1h-1zM222 174h1v1h-1zM222 178h1v1h-1zM222 179h1v1h-1zM222 183h1v1h-1zM222 188h1v1h-1zM222 192h1v1h-1zM222 193h1v1h-1zM222 197h1v1h-1zM222 198h1v1h-1zM222 202h1v1h-1zM222 203h1v1h-1zM222 207h1v1h-1zM222 212h1v1h-1zM222 216h1v1h-1zM222 217h1v1h-1zM222 221h1v1h-1zM222 222h1v1h-1zM222 226h1v1h-1zM222 227h1v1h-1zM222 231h1v1h-1zM222 232h1v1h-1zM222 236h1v1h-1zM222 241h1v1h-1zM222 245h1v1h-1zM222 246h1v1h-1zM222 250h1v1h-1zM222 251h1v1h-1zM222 255h1v1h-1zM222 256h1v1h-1zM222 260h1v1h-1zM222 265h1v1h-1zM222 269h1v1h-1zM222 270h1v1h-1zM222 274h1v1h-1zM222 275h1v1h-1zM222 279h1v1h-1zM222 280h1v1h-1zM222 284h1v1h-1zM222 285h1v1h-1zM222 289h1v1h-1zM222 294h1v1h-1zM222 298h1v1h-1zM222 299h1v1h-1zM222 303h1v1h-1zM222 304h1v1h-1zM222 308h1v1h-1zM222 309h1v1h-1zM222 313h1v1h-1zM222 318h1v1h-1z"/>
<path fill="#00ff00" d="M239 61h1v1h-1zM239 62h1v1h-1zM239 66h1v1h-1zM239 67h1v1h-1zM239 71h1v1h-1zM239 76h1v1h-1zM239 80h1v1h-1zM239 81h1v1h-1zM239 85h1v1h-1zM239 86h1v1h-1zM239 90h1v1h-1zM239 91h1v1h-1zM239 95h1v1h-1zM239 96h1v1h-1zM239 100h1v1h-1zM239 105h1v1h-1zM239 109h1v1h-1zM239 110h1v1h-1zM239 114h1v1h-1zM239 115h1v1h-1zM239 119h1v1h-1zM239 120h1v1h-1zM239 124h1v1h-1zM239 125h1v1h-1zM239 129h1v1h-1zM239 134h1v1h-1zM239 138h1v1h-1zM239 139h1v1h-1zM239 143h1v1h-1zM239 144h1v1h-1zM239 148h1v1h-1zM239 149h1v1h-1zM239 153h1v1h-1zM239 158h1v1h-1zM239 162h1v1h-1zM239 163h1v1h-1zM239 167h1v1h-1zM239 168h1v1h-1zM239 172h1v1h-1zM239 173h1v1h-1zM239 177h1v1h-1zM239 178h1v1h-1zM239 182h1v1h-1zM239 187h1v1h-1zM239 191h1v1h-1zM239 192h1v1h-1zM239 196h1v1h-1zM239 197h1v1h-1zM239 201h1v1h-1zM239 202h1v1h-1zM239 206h1v1h-1zM239 211h1v1h-1zM239 215h1v1h-1zM239 216h1v1h-1zM239 220h1v1h-1zM239 221h1v1h-1zM239 225h1v1h-1zM239 226h1v1h-1zM239 230h1v1h-1zM239 231h1v1h-1zM239 235h1v1h-1zM239 240h1v1h-1zM239 244h1v1h-1zM239 245h1v1h-1zM239 249h1v1h-1zM239 250h1v1h-1zM239 254h1v1h-1zM239 255h1v1h-1zM239 259h1v1h-1zM239 264h1v1h-1zM239 268h1v1h-1zM239 269h1v1h-1zM239 273h1v1h-1zM239 274h1v1h-1zM239 278h1v1h-1zM239 279h1v1h-1zM239 283h1v1h-1zM239 284h1v1h-1zM239 288h1v1h-1zM239 293h1v1h-1zM239 297h1v1h-1zM239 298h1v1h-1zM239 302h1v1h-1zM239 303h1v1h-1zM239 307h1v1h-1zM239 308h1v1h-1zM239 312h1v1h-1zM239 317h1v1h-1z"/>
<path fill="#ffffff" d="M258 61h1v1h-1zM258 65h1v1h-1zM258 70h1v1h-1zM258 74h1v1h-1zM258 75h1v1h-1zM258 79h1v1h-1zM258 80h1v1h-1zM258 84h1v1h-1zM258 85h1v1h-1zM258 89h1v1h-1zM258 94h1v1h-1zM258 98h1v1h-1zM258 99h1v1h-1zM258 103h1v1h-1zM258 104h1v1h-1zM258 108h1v1h-1zM258 109h1v1h-1zM258 113h1v1h-1zM258 114h1v1h-1zM258 118h1v1h-1zM258 123h1v1h-1zM258 127h1v1h-1zM258 128h1v1h-1zM258 132h1v1h-1zM258 133h1v1h-1zM258 137h1v1h-1zM258 138h1v1h-1zM258 142h1v1h-1zM258 147h1v1h-1zM258 151h1v1h-1zM258 152h1v1h-1zM258 156h1v1h-1zM258 157h1v1h-1zM258 161h1v1h-1zM258 162h1v1h-1zM258 166h1v1h-1zM258 167h1v1h-1zM258 171h1v1h-1zM258 176h1v1h-1zM258 180h1v1h-1zM258 181h1v1h-1zM258 185h1v1h-1zM258 186h1v1h-1zM258 190h1v1h-1zM258 191h1v1h-1zM258 195h1v1h-1zM258 200h1v1h-1zM258 204h1v1h-1zM258 205h1v1h-1zM258 209h1v1h-1zM258 210h1v1h-1zM258 214h1v1h-1zM258 215h1v1h-1zM258 219h1v1h-1zM258 220h1v1h-1zM258 224h1v1h-1zM258 229h1v1h-1zM258 233h1v1h-1zM258 234h1v1h-1zM258 238h1v1h-1zM258 239h1v1h-1zM258 243h1v1h-1zM258 244h1v1h-1zM258 248h1v1h-1zM258 249h1v1h-1zM258 253h1v1h-1zM258 257h1v1h-1zM258 258h1v1h-1zM258 262h1v1h-1zM258 263h1v1h-1zM258 267h1v1h-1zM258 268h1v1h-1zM258 272h1v1h-1zM258 273h1v1h-1zM258 277h1v1h-1zM258 282h1v1h-1zM258 286h1v1h-1zM258 287h1v1h-1zM258 291h1v1h-1zM258 292h1v1h-1zM258 296h1v1h-1zM258 297h1v1h-1zM258 301h1v1h-1zM258 302h1v1h-1zM258 306h1v1h-1zM258 311h1v1h-1zM258 315h1v1h-1zM258 316h1v1h-1zM258 320h1v1h-1z"/>
<path fill="#ff00ff" d="M384 61h1v1h-1zM384 62h1v1h-1zM384 66h1v1h-1zM384 71h1v1h-1zM384 75h1v1h-1zM384 76h1v1h-1zM384 80h1v1h-1zM384 81h1v1h-1zM384 85h1v1h-1zM384 86h1v1h-1zM384 90h1v1h-1zM384 91h1v1h-1zM384 95h1v1h-1zM384 100h1v1h-1zM384 104h1v1h-1zM384 105h1v1h-1zM384 109h1v1h-1zM384 110h1v1h-1zM384 114h1v1h-1zM384 115h1v1h-1zM384 119h1v1h-1zM384 124h1v1h-1zM384 128h1v1h-1zM384 129h1v1h-1zM384 133h1v1h-1zM384 134h1v1h-1zM384 138h1v1h-1zM384 139h1v1h-1zM384 143h1v1h-1zM384 144h1v1h-1zM384 148h1v1h-1zM384 153h1v1h-1zM384 157h1v1h-1zM384 158h1v1h-1zM384 162h1v1h-1zM384 163h1v1h-1zM384 167h1v1h-1zM384 168h1v1h-1zM384 172h1v1h-1zM384 177h1v1h-1zM384 181h1v1h-1zM384 182h1v1h-1zM384 186h1v1h-1zM384 187h1v1h-1zM384 191h1v1h-1zM384 192h1v1h-1zM384 196h1v1h-1zM384 197h1v1h-1zM384 201h1v1h-1zM384 206h1v1h-1zM384 210h1v1h-1zM384 211h1v1h-1zM384 215h1v1h-1zM384 216h1v1h-1zM384 220h1v1h-1zM384 221h1v1h-1zM384 225h1v1h-1zM384 230h1v1h-1zM384 234h1v1h-1zM384 235h1v1h-1zM384 239h1v1h-1zM384 240h1v1h-1zM384 244h1v1h-1zM384 245h1v1h-1zM384 249h1v1h-1zM384 250h1v1h-1zM384 254h1v1h-1zM384 259h1v1h-1zM384 263h1v1h-1zM384 264h1v1h-1zM384 268h1v1h-1zM384 269h1v1h-1zM384 273h1v1h-1zM384 274h1v1h-1zM384 278h1v1h-1zM384 279h1v1h-1zM384 283h1v1h-1zM384 287h1v1h-1zM384 288h1v1h-1zM384 292h1v1h-1zM384 293h1v1h-1zM384 297h1v1h-1zM384 298h1v1h-1zM384 302h1v1h-1zM384 303h1v1h-1zM384 307h1v1h-1zM384 312h1v1h-1zM384 316h1v1h-1zM384 317h1v1h-1z"/>
<path fill="#ff8000" d="M464 62h1v1h-1zM464 63h1v1h-1zM464 67h1v1h-1zM464 68h1v1h-1zM464 72h1v1h-1zM464 77h1v1h-1zM464 81h1v1h-1zM464 82h1v1h-1zM464 86h1v1h-1zM464 87h1v1h-1zM464 91h1v1h-1zM464 92h1v1h-1zM464 96h1v1h-1zM464 97h1v1h-1zM464 101h1v1h-1zM464 106h1v1h-1zM464 110h1v1h-1zM464 111h1v1h-1zM464 115h1v1h-1zM464 116h1v1h-1zM464 120h1v1h-1zM464 121h1v1h-1zM464 125h1v1h-1zM464 126h1v1h-1zM464 130h1v1h-1zM464 135h1v1h-1zM464 139h1v1h-1zM464 140h1v1h-1zM464 144h1v1h-1zM464 145h1v1h-1zM464 149h1v1h-1zM464 150h1v1h-1zM464 154h1v1h-1zM464 159h1v1h-1zM464 163h1v1h-1zM464 164h1v1h-1zM464 168h1v1h-1zM464 169h1v1h-1zM464 173h1v1h-1zM464 174h1v1h-1zM464 178h1v1h-1zM464 179h1v1h-1zM464 183h1v1h-1zM464 188h1v1h-1zM464 192h1v1h-1zM464 193h1v1h-1zM464 197h1v1h-1zM464 198h1v1h-1zM464 202h1v1h-1zM464 203h1v1h-1zM464 207h1v1h-1zM464 212h1v1h-1zM464 216h1v1h-1zM464 217h1v1h-1zM464 221h1v1h-1zM464 222h1v1h-1zM464 226h1v1h-1zM464 227h1v1h-1zM464 231h1v1h-1zM464 232h1v1h-1zM464 236h1v1h-1zM464 241h1v1h-1zM464 245h1v1h-1zM464 246h1v1h-1zM464 250h1v1h-1zM464 251h1v1h-1zM464 255h1v1h-1zM464 256h1v1h-1zM464 260h1v1h-1zM464 265h1v1h-1zM464 269h1v1h-1zM464 270h1v1h-1zM464 274h1v1h-1zM464 275h1v1h-1zM464 279h1v1h-1zM464 280h1v1h-1zM464 284h1v1h-1zM464 285h1v1h-1zM464 289h1v1h-1zM464 294h1v1h-1zM464 298h1v1h-1zM464 299h1v1h-1zM464 303h1v1h-1zM464 304h1v1h-1zM464 308h1v1h-1zM464 309h1v1h-1zM464 313h1v1h-1zM464 318h1v1h-1z"/>
<path fill="#00ffff" d="M696 63h1v1h-1zM696 64h1v1h-1zM696 68h1v1h-1zM696 69h1v1h-1zM696 73h1v1h-1zM696 78h1v1h-1zM696 82h1v1h-1zM696 83h1v1h-1zM696 87h1v1h-1zM696 88h1v1h-1zM696 92h1v1h-1zM696 93h1v1h-1zM696 97h1v1h-1zM696 98h1v1h-1zM696 102h1v1h-1zM696 107h1v1h-1zM696 111h1v1h-1zM696 112h1v1h-1zM696 116h1v1h-1zM696 117h1v1h-1zM696 121h1v1h-1zM696 122h1v1h-1zM696 126h1v1h-1zM696 127h1v1h-1zM696 131h1v1h-1zM696 136h1v1h-1zM696 140h1v1h-1zM696 141h1v1h-1zM696 145h1v1h-1zM696 146h1v1h-1zM696 150h1v1h-1zM696 151h1v1h-1zM696 155h1v1h-1zM696 160h1v1h-1zM696 164h1v1h-1zM696 165h1v1h-1zM696 169h1v1h-1zM696 170h1v1h-1zM696 174h1v1h-1zM696 175h1v1h-1zM696 179h1v1h-1zM696 180h1v1h-1zM696 184h1v1h-1zM696 189h1v1h-1zM696 193h1v1h-1zM696 194h1v1h-1zM696 198h1v1h-1zM696 199h1v1h-1zM696 203h1v1h-1zM696 204h1v1h-1zM696 208h1v1h-1zM696 213h1v1h-1zM696 217h1v1h-1zM696 218h1v1h-1zM696 222h1v1h-1zM696 223h1v1h-1zM696 227h1v1h-1zM696 228h1v1h-1zM696 232h1v1h-1zM696 233h1v1h-1zM696 237h1v1h-1zM696 242h1v1h-1zM696 246h1v1h-1zM696 247h1v1h-1zM696 251h1v1h-1zM696 252h1v1h-1zM696 256h1v1h-1zM696 257h1v1h-1zM696 261h1v1h-1zM696 266h1v1h-1zM696 270h1v1h-1zM696 271h1v1h-1zM696 275h1v1h-1zM696 276h1v1h-1zM696 280h1v1h-1zM696 281h1v1h-1zM696 285h1v1h-1zM696 286h1v1h-1zM696 290h1v1h-1zM696 295h1v1h-1zM696 299h1v1h-1zM696 300h1v1h-1zM696 304h1v1h-1zM696 305h1v1h-1zM696 309h1v1h-1zM696 310h1v1h-1zM696 314h1v1h-1zM696 319h1v1h-1z"/>
<path fill="#ff00ff" d="M561 375h1v1h-1zM561 376h1v1h-1zM561 380h1v1h-1zM561 381h1v1h-1zM561 385h1v1h-1zM561 390h1v1h-1zM561 394h1v1h-1zM561 395h1v1h-1zM561 399h1v1h-1zM561 400h1v1h-1zM561 404h1v1h-1zM561 405h1v1h-1zM561 409h1v1h-1zM561 410h1v1h-1zM561 414h1v1h-1zM561 419h1v1h-1zM561 423h1v1h-1zM561 424h1v1h-1zM561 428h1v1h-1zM561 429h1v1h-1zM561 433h1v1h-1zM561 434h1v1h-1zM561 438h1v1h-1zM561 439h1v1h-1zM561 443h1v1h-1zM561 447h1v1h-1zM561 448h1v1h-1zM561 452h1v1h-1zM561 453h1v1h-1zM561 457h1v1h-1zM561 458h1v1h-1zM561 462h1v1h-1zM561 463h1v1h-1zM561 467h1v1h-1zM561 472h1v1h-1zM561 476h1v1h-1zM561 477h1v1h-1zM561 481h1v1h-1zM561 482h1v1h-1zM561 486h1v1h-1zM561 487h1v1h-1zM561 491h1v1h-1zM561 492h1v1h-1zM561 496h1v1h-1zM561 501h1v1h-1zM561 505h1v1h-1zM561 506h1v1h-1zM561 510h1v1h-1zM561 511h1v1h-1zM561 515h1v1h-1zM561 516h1v1h-1zM561 520h1v1h-1zM561 525h1v1h-1zM561 529h1v1h-1zM561 530h1v1h-1zM561 534h1v1h-1zM561 535h1v1h-1zM561 539h1v1h-1zM561 540h1v1h-1zM561 544h1v1h-1zM561 545h1v1h-1zM561 549h1v1h-1zM561 554h1v1h-1zM561 558h1v1h-1zM561 559h1v1h-1zM561 563h1v1h-1zM561 564h1v1h-1zM561 568h1v1h-1zM561 569h1v1h-1zM561 573h1v1h-1zM561 578h1v1h-1zM561 582h1v1h-1zM561 583h1v1h-1zM561 587h1v1h-1zM561 588h1v1h-1zM561 592h1v1h-1zM561 593h1v1h-1zM561 597h1v1h-1zM561 598h1v1h-1zM561 602h1v1h-1zM561 607h1v1h-1zM561 611h1v1h-1zM561 612h1v1h-1zM561 616h1v1h-1zM561 617h1v1h-1zM561 621h1v1h-1zM561 622h1v1h-1zM561 626h1v1h-1zM561 631h1v1h-1z"/>
<path fill="#ffffff" d="M42 20h44v1h-44zM233 20h8v1h-8zM246 20h8v1h-8zM260 20h8v1h-8zM274 20h4v1h-4zM416 20h1v1h-1zM420 20h2v1h-2zM425 20h2v1h-2zM430 20h2v1h-2zM435 20h1v1h-1zM439 20h2v1h-2zM444 20h2v1h-2zM449 20h2v1h-2zM454 20h1v1h-1z"/>
<path fill="#00ff00" d="M42 34h44v1h-44zM233 34h8v1h-8zM246 34h8v1h-8zM260 34h8v1h-8zM274 34h4v1h-4zM416 34h1v1h-1zM420 34h2v1h-2zM425 34h2v1h-2zM430 34h2v1h-2zM435 34h1v1h-1zM439 34h2v1h-2zM444 34h2v1h-2zM449 34h2v1h-2zM454 34h1v1h-1z"/>
<path fill="#ff0000" d="M42 48h44v1h-44zM233 48h8v1h-8zM246 48h8v1h-8zM260 48h8v1h-8zM274 48h4v1h-4zM416 48h1v1h-1zM420 48h2v1h-2zM425 48h2v1h-2zM430 48h2v1h-2zM435 48h1v1h-1zM439 48h2v1h-2zM444 48h2v1h-2zM449 48h2v1h-2zM454 48h1v1h-1z"/>
<path fill="#ff00ff" d="M654 20h1v1h-1zM658 20h2v1h-2zM663 20h2v1h-2zM668 20h2v1h-2zM673 20h1v1h-1zM677 20h2v1h-2zM682 20h2v1h-2zM687 20h2v1h-2zM692 20h1v1h-1z"/>
<path fill="#ff8000" d="M654 34h1v1h-1zM658 34h2v1h-2zM663 34h2v1h-2zM668 34h2v1h-2zM673 34h1v1h-1zM677 34h2v1h-2zM682 34h2v1h-2zM687 34h2v1h-2zM692 34h1v1h-1z"/>
<path fill="#00ffff" d="M654 48h1v1h-1zM658 48h2v1h-2zM663 48h2v1h-2zM668 48h2v1h-2zM673 48h1v1h-1zM677 48h2v1h-2zM682 48h2v1h-2zM687 48h2v1h-2zM692 48h1v1h-1z"/>
</g>
<g>
<text x="92" y="21" fill="#ffffff" text-anchor="start" textLength="73.3" lengthAdjust="spacingAndGlyphs" word-spacing="1.5">J−band SB</text>
<text x="92.2" y="35" fill="#00ff00" text-anchor="start" textLength="74.2" lengthAdjust="spacingAndGlyphs" word-spacing="1.5">H−band SB</text>
<text x="92.2" y="49" fill="#ff0000" text-anchor="start" textLength="74.2" lengthAdjust="spacingAndGlyphs" word-spacing="1.5">K−band SB</text>
<text x="283.2" y="21" fill="#ffffff" text-anchor="start" textLength="69.6" lengthAdjust="spacingAndGlyphs" word-spacing="3">J 1σ noise</text>
<text x="283.6" y="35" fill="#00ff00" text-anchor="start" textLength="72.0" lengthAdjust="spacingAndGlyphs" word-spacing="3">H 1σ noise</text>
<text x="283.6" y="49" fill="#ff0000" text-anchor="start" textLength="71.2" lengthAdjust="spacingAndGlyphs" word-spacing="3">K 1σ noise</text>
<text x="466" y="21" fill="#ffffff" text-anchor="start" textLength="121" lengthAdjust="spacingAndGlyphs" word-spacing="1.5">J half−light radius</text>
<text x="466.2" y="35" fill="#00ff00" text-anchor="start" textLength="123.2" lengthAdjust="spacingAndGlyphs" word-spacing="1.5">H half−light radius</text>
<text x="466.2" y="49" fill="#ff0000" text-anchor="start" textLength="122.6" lengthAdjust="spacingAndGlyphs" word-spacing="1.5">K half−light radius</text>
<text x="703.3" y="21" fill="#ff00ff" text-anchor="start" textLength="104.2" lengthAdjust="spacingAndGlyphs" word-spacing="3">isophotal radius</text>
<text x="703.5" y="35" fill="#ff8000" text-anchor="start" textLength="75.5" lengthAdjust="spacingAndGlyphs" word-spacing="3">Kron radius</text>
<text x="703.8" y="49" fill="#00ffff" text-anchor="start" textLength="74.8" lengthAdjust="spacingAndGlyphs" word-spacing="3">total radius</text>
<text x="104.6" y="338" fill="#ffffff" text-anchor="middle" >0</text>
<text x="183.4" y="338" fill="#ffffff" text-anchor="middle" >10</text>
<text x="262.2" y="338" fill="#ffffff" text-anchor="middle" >20</text>
<text x="341.1" y="338" fill="#ffffff" text-anchor="middle" >30</text>
<text x="419.9" y="338" fill="#ffffff" text-anchor="middle" >40</text>
<text x="498.7" y="338" fill="#ffffff" text-anchor="middle" >50</text>
<text x="577.5" y="338" fill="#ffffff" text-anchor="middle" >60</text>
<text x="656.3" y="338" fill="#ffffff" text-anchor="middle" >70</text>
<text x="735.2" y="338" fill="#ffffff" text-anchor="middle" >80</text>
<text x="56" y="91" fill="#ffffff" text-anchor="end" >16</text>
<text x="56" y="154" fill="#ffffff" text-anchor="end" >18</text>
<text x="56" y="218" fill="#ffffff" text-anchor="end" >20</text>
<text x="56" y="281" fill="#ffffff" text-anchor="end" >22</text>
<text x="367" y="356" fill="#ffffff" text-anchor="start" textLength="115.5" lengthAdjust="spacingAndGlyphs" word-spacing="1.5">vv116c radius (")</text>
<text transform="translate(32.2,279.0) rotate(-90)" fill="#fff" textLength="44.1" lengthAdjust="spacingAndGlyphs" >vv116c</text>
<text transform="translate(32.2,227.3) rotate(-90)" fill="#fff" textLength="16.7" lengthAdjust="spacingAndGlyphs" >SB</text>
<text transform="translate(32.2,203.6) rotate(-90)" fill="#fff" textLength="32.3" lengthAdjust="spacingAndGlyphs" word-spacing="0">(mag</text>
<text transform="translate(32.2,162.5) rotate(-90)" fill="#fff" textLength="41.8" lengthAdjust="spacingAndGlyphs" >arcsec</text>
<text transform="translate(24.8,120.6) rotate(-90)" fill="#fff" font-size="9.5" textLength="14" lengthAdjust="spacingAndGlyphs">−2</text>
<text transform="translate(32.2,105.8) rotate(-90)" fill="#fff" textLength="4.4" lengthAdjust="spacingAndGlyphs" >)</text>
<text x="113.8" y="652" fill="#ffffff" text-anchor="middle" >0</text>
<text x="207.9" y="652" fill="#ffffff" text-anchor="middle" >0.5</text>
<text x="302.1" y="652" fill="#ffffff" text-anchor="middle" >1</text>
<text x="396.1" y="652" fill="#ffffff" text-anchor="middle" >1.5</text>
<text x="490.2" y="652" fill="#ffffff" text-anchor="middle" >2</text>
<text x="584.3" y="652" fill="#ffffff" text-anchor="middle" >2.5</text>
<text x="678.4" y="652" fill="#ffffff" text-anchor="middle" >3</text>
<text x="772.5" y="652" fill="#ffffff" text-anchor="middle" >3.5</text>
<text x="56" y="405" fill="#ffffff" text-anchor="end" >1.5</text>
<text x="56" y="523" fill="#ffffff" text-anchor="end" >1</text>
<text x="56" y="641" fill="#ffffff" text-anchor="end" >0.5</text>
<text x="387" y="669.5" fill="#ffffff" text-anchor="start" textLength="37.5" lengthAdjust="spacingAndGlyphs" >radius</text>
<text transform="translate(432.2,673.2) skewX(-10)" fill="#fff" font-size="19">/</text>
<text x="447.8" y="669.5" fill="#ffffff" text-anchor="start" textLength="7.4" lengthAdjust="spacingAndGlyphs" >R</text>
<text x="455.8" y="675" fill="#fff" font-size="10.8" textLength="10.4" lengthAdjust="spacingAndGlyphs">Je</text>
<text transform="translate(32.2,574.2) rotate(-90)" fill="#fff" textLength="140.2" lengthAdjust="spacingAndGlyphs" word-spacing="1.5">J−K<tspan dy="5.2" font-size="9.5">s</tspan><tspan dy="-5.2"> (mag arcsec</tspan><tspan dy="-7" font-size="9.5">−2</tspan><tspan dy="7">)</tspan></text>
</g>
</svg>
</body></html>
